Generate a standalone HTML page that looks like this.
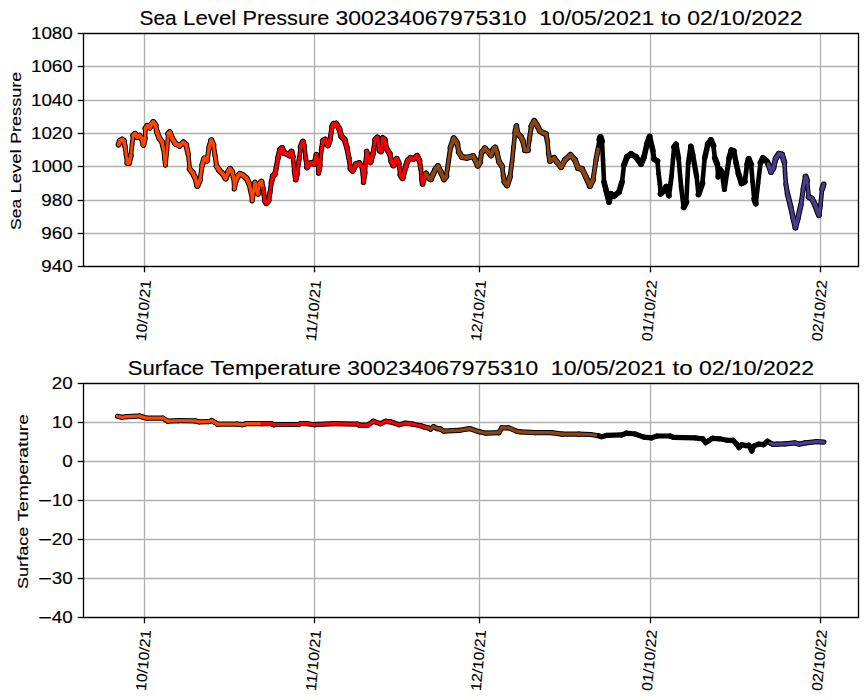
<!DOCTYPE html>
<html><head><meta charset="utf-8"><style>html,body{margin:0;padding:0;background:#fff;width:867px;height:700px;overflow:hidden;position:relative}</style></head>
<body>
<svg width="867" height="700" viewBox="0 0 867 700" style="position:absolute;left:0;top:0" font-family='"Liberation Sans", sans-serif' fill="#000">
<rect width="867" height="700" fill="#fff"/>
<style>text{stroke:#000;stroke-width:0.15px;}</style>
<line x1="144.5" y1="33.5" x2="144.5" y2="266.5" stroke="#b0b0b0" stroke-width="1.33"/>
<line x1="314.5" y1="33.5" x2="314.5" y2="266.5" stroke="#b0b0b0" stroke-width="1.33"/>
<line x1="479.5" y1="33.5" x2="479.5" y2="266.5" stroke="#b0b0b0" stroke-width="1.33"/>
<line x1="650.5" y1="33.5" x2="650.5" y2="266.5" stroke="#b0b0b0" stroke-width="1.33"/>
<line x1="820.5" y1="33.5" x2="820.5" y2="266.5" stroke="#b0b0b0" stroke-width="1.33"/>
<line x1="83.5" y1="33.50" x2="858.5" y2="33.50" stroke="#b0b0b0" stroke-width="1.33"/>
<line x1="83.5" y1="66.50" x2="858.5" y2="66.50" stroke="#b0b0b0" stroke-width="1.33"/>
<line x1="83.5" y1="100.50" x2="858.5" y2="100.50" stroke="#b0b0b0" stroke-width="1.33"/>
<line x1="83.5" y1="133.50" x2="858.5" y2="133.50" stroke="#b0b0b0" stroke-width="1.33"/>
<line x1="83.5" y1="166.50" x2="858.5" y2="166.50" stroke="#b0b0b0" stroke-width="1.33"/>
<line x1="83.5" y1="200.50" x2="858.5" y2="200.50" stroke="#b0b0b0" stroke-width="1.33"/>
<line x1="83.5" y1="233.50" x2="858.5" y2="233.50" stroke="#b0b0b0" stroke-width="1.33"/>
<line x1="83.5" y1="266.50" x2="858.5" y2="266.50" stroke="#b0b0b0" stroke-width="1.33"/>
<line x1="144.5" y1="383.5" x2="144.5" y2="617.5" stroke="#b0b0b0" stroke-width="1.33"/>
<line x1="314.5" y1="383.5" x2="314.5" y2="617.5" stroke="#b0b0b0" stroke-width="1.33"/>
<line x1="479.5" y1="383.5" x2="479.5" y2="617.5" stroke="#b0b0b0" stroke-width="1.33"/>
<line x1="650.5" y1="383.5" x2="650.5" y2="617.5" stroke="#b0b0b0" stroke-width="1.33"/>
<line x1="820.5" y1="383.5" x2="820.5" y2="617.5" stroke="#b0b0b0" stroke-width="1.33"/>
<line x1="83.5" y1="383.50" x2="858.5" y2="383.50" stroke="#b0b0b0" stroke-width="1.33"/>
<line x1="83.5" y1="422.50" x2="858.5" y2="422.50" stroke="#b0b0b0" stroke-width="1.33"/>
<line x1="83.5" y1="461.50" x2="858.5" y2="461.50" stroke="#b0b0b0" stroke-width="1.33"/>
<line x1="83.5" y1="500.50" x2="858.5" y2="500.50" stroke="#b0b0b0" stroke-width="1.33"/>
<line x1="83.5" y1="539.50" x2="858.5" y2="539.50" stroke="#b0b0b0" stroke-width="1.33"/>
<line x1="83.5" y1="578.50" x2="858.5" y2="578.50" stroke="#b0b0b0" stroke-width="1.33"/>
<line x1="83.5" y1="617.50" x2="858.5" y2="617.50" stroke="#b0b0b0" stroke-width="1.33"/>
<g fill="none" stroke-linecap="round" stroke="#000">
<line x1="118.6" y1="144.6" x2="119.9" y2="140.9" stroke-width="5.92"/>
<line x1="119.9" y1="140.9" x2="122.2" y2="139.7" stroke-width="6.00"/>
<line x1="122.2" y1="139.7" x2="123.8" y2="140.9" stroke-width="6.00"/>
<line x1="123.8" y1="140.9" x2="125.0" y2="146.4" stroke-width="5.51"/>
<line x1="125.0" y1="146.4" x2="126.1" y2="154.3" stroke-width="4.91"/>
<line x1="126.1" y1="154.3" x2="127.3" y2="162.9" stroke-width="4.91"/>
<line x1="127.3" y1="162.9" x2="128.9" y2="162.9" stroke-width="6.00"/>
<line x1="128.9" y1="162.9" x2="130.9" y2="155.8" stroke-width="5.76"/>
<line x1="130.9" y1="155.8" x2="132.0" y2="144.9" stroke-width="4.60"/>
<line x1="132.0" y1="144.9" x2="133.2" y2="135.4" stroke-width="4.74"/>
<line x1="133.2" y1="135.4" x2="135.2" y2="133.9" stroke-width="6.00"/>
<line x1="135.2" y1="133.9" x2="137.1" y2="137.0" stroke-width="6.00"/>
<line x1="137.1" y1="137.0" x2="139.5" y2="135.8" stroke-width="6.00"/>
<line x1="139.5" y1="135.8" x2="141.9" y2="138.6" stroke-width="6.00"/>
<line x1="141.9" y1="138.6" x2="143.4" y2="144.9" stroke-width="5.60"/>
<line x1="143.4" y1="144.9" x2="145.0" y2="138.6" stroke-width="5.66"/>
<line x1="145.0" y1="138.6" x2="145.4" y2="128.4" stroke-width="4.60"/>
<line x1="145.4" y1="128.4" x2="147.3" y2="126.0" stroke-width="6.00"/>
<line x1="147.3" y1="126.0" x2="149.7" y2="127.6" stroke-width="6.00"/>
<line x1="149.7" y1="127.6" x2="151.3" y2="124.4" stroke-width="6.00"/>
<line x1="151.3" y1="124.4" x2="153.2" y2="122.1" stroke-width="6.00"/>
<line x1="153.2" y1="122.1" x2="155.6" y2="125.2" stroke-width="6.00"/>
<line x1="155.6" y1="125.2" x2="156.8" y2="131.5" stroke-width="5.36"/>
<line x1="156.8" y1="131.5" x2="159.1" y2="137.8" stroke-width="5.94"/>
<line x1="159.1" y1="137.8" x2="161.9" y2="141.7" stroke-width="6.00"/>
<line x1="161.9" y1="141.7" x2="163.5" y2="148.8" stroke-width="5.55"/>
<line x1="163.5" y1="148.8" x2="164.6" y2="159.0" stroke-width="4.60"/>
<line x1="164.6" y1="159.0" x2="165.4" y2="165.3" stroke-width="4.75"/>
<line x1="165.4" y1="165.3" x2="167.0" y2="150.3" stroke-width="4.60"/>
<line x1="167.0" y1="150.3" x2="168.2" y2="133.9" stroke-width="4.60"/>
<line x1="168.2" y1="133.9" x2="169.7" y2="132.3" stroke-width="6.00"/>
<line x1="169.7" y1="132.3" x2="172.1" y2="138.2" stroke-width="6.00"/>
<line x1="172.1" y1="138.2" x2="175.4" y2="143.6" stroke-width="6.00"/>
<line x1="175.4" y1="143.6" x2="179.6" y2="145.7" stroke-width="6.00"/>
<line x1="179.6" y1="145.7" x2="183.4" y2="142.5" stroke-width="6.00"/>
<line x1="183.4" y1="142.5" x2="186.1" y2="144.7" stroke-width="6.00"/>
<line x1="186.1" y1="144.7" x2="188.2" y2="154.3" stroke-width="5.52"/>
<line x1="188.2" y1="154.3" x2="189.8" y2="169.3" stroke-width="4.60"/>
<line x1="189.8" y1="169.3" x2="192.5" y2="172.5" stroke-width="6.00"/>
<line x1="192.5" y1="172.5" x2="195.2" y2="177.9" stroke-width="6.00"/>
<line x1="195.2" y1="177.9" x2="197.3" y2="185.9" stroke-width="5.69"/>
<line x1="197.3" y1="185.9" x2="200.0" y2="180.0" stroke-width="6.00"/>
<line x1="200.0" y1="180.0" x2="202.2" y2="165.0" stroke-width="4.99"/>
<line x1="202.2" y1="165.0" x2="204.3" y2="158.6" stroke-width="5.87"/>
<line x1="204.3" y1="158.6" x2="207.0" y2="160.7" stroke-width="6.00"/>
<line x1="207.0" y1="160.7" x2="209.1" y2="147.9" stroke-width="5.16"/>
<line x1="209.1" y1="147.9" x2="211.3" y2="140.4" stroke-width="5.79"/>
<line x1="211.3" y1="140.4" x2="213.4" y2="144.7" stroke-width="6.00"/>
<line x1="213.4" y1="144.7" x2="215.0" y2="155.4" stroke-width="5.02"/>
<line x1="215.0" y1="155.4" x2="216.6" y2="166.1" stroke-width="5.02"/>
<line x1="216.6" y1="166.1" x2="219.3" y2="170.4" stroke-width="6.00"/>
<line x1="219.3" y1="170.4" x2="222.5" y2="173.6" stroke-width="6.00"/>
<line x1="222.5" y1="173.6" x2="225.7" y2="178.4" stroke-width="6.00"/>
<line x1="225.7" y1="178.4" x2="228.4" y2="171.4" stroke-width="5.98"/>
<line x1="228.4" y1="171.4" x2="230.0" y2="168.9" stroke-width="6.00"/>
<line x1="230.0" y1="168.9" x2="232.1" y2="171.7" stroke-width="6.00"/>
<line x1="232.1" y1="171.7" x2="233.6" y2="178.1" stroke-width="5.59"/>
<line x1="233.6" y1="178.1" x2="234.3" y2="188.9" stroke-width="4.60"/>
<line x1="234.3" y1="188.9" x2="235.7" y2="181.0" stroke-width="5.27"/>
<line x1="235.7" y1="181.0" x2="237.9" y2="176.0" stroke-width="6.00"/>
<line x1="237.9" y1="176.0" x2="240.0" y2="173.9" stroke-width="6.00"/>
<line x1="240.0" y1="173.9" x2="242.9" y2="175.3" stroke-width="6.00"/>
<line x1="242.9" y1="175.3" x2="246.4" y2="178.1" stroke-width="6.00"/>
<line x1="246.4" y1="178.1" x2="249.3" y2="183.9" stroke-width="6.00"/>
<line x1="249.3" y1="183.9" x2="251.4" y2="193.9" stroke-width="5.47"/>
<line x1="251.4" y1="193.9" x2="252.1" y2="201.0" stroke-width="4.60"/>
<line x1="252.1" y1="201.0" x2="253.6" y2="191.0" stroke-width="5.03"/>
<line x1="253.6" y1="191.0" x2="255.0" y2="182.4" stroke-width="5.15"/>
<line x1="255.0" y1="182.4" x2="256.4" y2="189.6" stroke-width="5.38"/>
<line x1="256.4" y1="189.6" x2="257.9" y2="193.9" stroke-width="5.91"/>
<line x1="257.9" y1="193.9" x2="259.3" y2="183.9" stroke-width="4.92"/>
<line x1="259.3" y1="183.9" x2="261.4" y2="181.7" stroke-width="6.00"/>
<line x1="261.4" y1="181.7" x2="262.9" y2="188.1" stroke-width="5.59"/>
<line x1="262.9" y1="188.1" x2="263.6" y2="192.4" stroke-width="5.15"/>
<line x1="263.6" y1="192.4" x2="265.0" y2="201.0" stroke-width="5.15"/>
<line x1="265.0" y1="201.0" x2="266.4" y2="203.1" stroke-width="6.00"/>
<line x1="266.4" y1="203.1" x2="268.6" y2="200.3" stroke-width="6.00"/>
<line x1="268.6" y1="200.3" x2="270.0" y2="192.4" stroke-width="5.27"/>
<line x1="270.0" y1="192.4" x2="271.4" y2="182.4" stroke-width="4.92"/>
<line x1="271.4" y1="182.4" x2="272.9" y2="176.0" stroke-width="5.59"/>
<line x1="272.9" y1="176.0" x2="275.0" y2="173.9" stroke-width="6.00"/>
<line x1="275.0" y1="173.9" x2="276.4" y2="166.7" stroke-width="5.38"/>
<line x1="276.4" y1="166.7" x2="277.9" y2="158.1" stroke-width="5.25"/>
<line x1="277.9" y1="158.1" x2="280.0" y2="149.6" stroke-width="5.64"/>
<line x1="280.0" y1="149.6" x2="282.1" y2="148.1" stroke-width="6.00"/>
<line x1="282.1" y1="148.1" x2="284.3" y2="153.1" stroke-width="6.00"/>
<line x1="284.3" y1="153.1" x2="287.1" y2="153.9" stroke-width="6.00"/>
<line x1="287.1" y1="153.9" x2="289.3" y2="155.3" stroke-width="6.00"/>
<line x1="289.3" y1="155.3" x2="291.4" y2="151.7" stroke-width="6.00"/>
<line x1="291.4" y1="151.7" x2="292.9" y2="156.7" stroke-width="5.81"/>
<line x1="292.9" y1="156.7" x2="294.3" y2="171.0" stroke-width="4.60"/>
<line x1="294.3" y1="171.0" x2="295.7" y2="179.6" stroke-width="5.15"/>
<line x1="295.7" y1="179.6" x2="297.1" y2="173.9" stroke-width="5.63"/>
<line x1="297.1" y1="173.9" x2="297.9" y2="166.7" stroke-width="4.60"/>
<line x1="297.9" y1="166.7" x2="299.3" y2="158.1" stroke-width="5.15"/>
<line x1="299.3" y1="158.1" x2="300.7" y2="146.7" stroke-width="4.68"/>
<line x1="300.7" y1="146.7" x2="302.9" y2="141.7" stroke-width="6.00"/>
<line x1="302.9" y1="141.7" x2="304.3" y2="146.7" stroke-width="5.75"/>
<line x1="304.3" y1="146.7" x2="305.7" y2="158.1" stroke-width="4.68"/>
<line x1="305.7" y1="158.1" x2="307.1" y2="167.4" stroke-width="5.03"/>
<line x1="307.1" y1="167.4" x2="308.6" y2="163.9" stroke-width="6.00"/>
<line x1="308.6" y1="163.9" x2="311.4" y2="163.1" stroke-width="6.00"/>
<line x1="311.4" y1="163.1" x2="314.3" y2="163.9" stroke-width="6.00"/>
<line x1="314.3" y1="163.9" x2="316.4" y2="154.6" stroke-width="5.55"/>
<line x1="316.4" y1="154.6" x2="317.9" y2="162.4" stroke-width="5.37"/>
<line x1="317.9" y1="162.4" x2="318.6" y2="173.1" stroke-width="4.60"/>
<line x1="318.6" y1="173.1" x2="320.0" y2="165.3" stroke-width="5.28"/>
<line x1="320.0" y1="165.3" x2="321.4" y2="149.6" stroke-width="4.60"/>
<line x1="321.4" y1="149.6" x2="322.9" y2="141.0" stroke-width="5.25"/>
<line x1="322.9" y1="141.0" x2="325.0" y2="139.6" stroke-width="6.00"/>
<line x1="325.0" y1="139.6" x2="327.9" y2="145.3" stroke-width="6.00"/>
<line x1="327.9" y1="145.3" x2="330.0" y2="139.6" stroke-width="5.95"/>
<line x1="330.0" y1="139.6" x2="332.1" y2="126.7" stroke-width="5.15"/>
<line x1="332.1" y1="126.7" x2="333.6" y2="123.9" stroke-width="6.00"/>
<line x1="333.6" y1="123.9" x2="334.3" y2="124.6" stroke-width="6.00"/>
<line x1="334.3" y1="124.6" x2="336.1" y2="123.6" stroke-width="6.00"/>
<line x1="336.1" y1="123.6" x2="339.3" y2="128.9" stroke-width="6.00"/>
<line x1="339.3" y1="128.9" x2="341.4" y2="136.4" stroke-width="5.75"/>
<line x1="341.4" y1="136.4" x2="344.6" y2="139.7" stroke-width="6.00"/>
<line x1="344.6" y1="139.7" x2="346.8" y2="147.2" stroke-width="5.79"/>
<line x1="346.8" y1="147.2" x2="348.9" y2="157.9" stroke-width="5.39"/>
<line x1="348.9" y1="157.9" x2="350.5" y2="168.6" stroke-width="5.02"/>
<line x1="350.5" y1="168.6" x2="352.7" y2="170.7" stroke-width="6.00"/>
<line x1="352.7" y1="170.7" x2="355.9" y2="164.3" stroke-width="6.00"/>
<line x1="355.9" y1="164.3" x2="359.1" y2="163.2" stroke-width="6.00"/>
<line x1="359.1" y1="163.2" x2="361.8" y2="166.4" stroke-width="6.00"/>
<line x1="361.8" y1="166.4" x2="362.9" y2="175.0" stroke-width="4.76"/>
<line x1="362.9" y1="175.0" x2="363.4" y2="182.5" stroke-width="4.60"/>
<line x1="363.4" y1="182.5" x2="365.0" y2="172.9" stroke-width="5.18"/>
<line x1="365.0" y1="172.9" x2="365.5" y2="162.2" stroke-width="4.60"/>
<line x1="365.5" y1="162.2" x2="366.6" y2="151.4" stroke-width="4.60"/>
<line x1="366.6" y1="151.4" x2="368.2" y2="157.9" stroke-width="5.64"/>
<line x1="368.2" y1="157.9" x2="370.4" y2="162.2" stroke-width="6.00"/>
<line x1="370.4" y1="162.2" x2="373.0" y2="153.6" stroke-width="5.81"/>
<line x1="373.0" y1="153.6" x2="375.2" y2="139.7" stroke-width="5.11"/>
<line x1="375.2" y1="139.7" x2="377.3" y2="137.5" stroke-width="6.00"/>
<line x1="377.3" y1="137.5" x2="379.5" y2="150.4" stroke-width="5.22"/>
<line x1="379.5" y1="150.4" x2="381.1" y2="151.4" stroke-width="6.00"/>
<line x1="381.1" y1="151.4" x2="382.7" y2="138.0" stroke-width="4.63"/>
<line x1="382.7" y1="138.0" x2="384.8" y2="139.7" stroke-width="6.00"/>
<line x1="384.8" y1="139.7" x2="386.4" y2="148.2" stroke-width="5.34"/>
<line x1="386.4" y1="148.2" x2="389.7" y2="153.6" stroke-width="6.00"/>
<line x1="389.7" y1="153.6" x2="391.3" y2="161.1" stroke-width="5.49"/>
<line x1="391.3" y1="161.1" x2="393.4" y2="165.4" stroke-width="6.00"/>
<line x1="393.4" y1="165.4" x2="396.6" y2="158.9" stroke-width="6.00"/>
<line x1="396.6" y1="158.9" x2="398.8" y2="163.2" stroke-width="6.00"/>
<line x1="398.8" y1="163.2" x2="400.4" y2="175.0" stroke-width="4.86"/>
<line x1="400.4" y1="175.0" x2="402.5" y2="178.2" stroke-width="6.00"/>
<line x1="402.5" y1="178.2" x2="405.7" y2="166.4" stroke-width="5.72"/>
<line x1="405.7" y1="166.4" x2="407.8" y2="160.6" stroke-width="5.94"/>
<line x1="407.8" y1="160.6" x2="410.6" y2="157.9" stroke-width="6.00"/>
<line x1="410.6" y1="157.9" x2="413.4" y2="158.8" stroke-width="6.00"/>
<line x1="413.4" y1="158.8" x2="417.1" y2="156.0" stroke-width="6.00"/>
<line x1="417.1" y1="156.0" x2="419.4" y2="160.6" stroke-width="6.00"/>
<line x1="419.4" y1="160.6" x2="420.8" y2="169.0" stroke-width="5.18"/>
<line x1="420.8" y1="169.0" x2="421.7" y2="179.2" stroke-width="4.60"/>
<line x1="421.7" y1="179.2" x2="422.6" y2="183.9" stroke-width="5.36"/>
<line x1="422.6" y1="183.9" x2="424.0" y2="178.3" stroke-width="5.65"/>
<line x1="424.0" y1="178.3" x2="425.9" y2="173.6" stroke-width="6.00"/>
<line x1="425.9" y1="173.6" x2="429.1" y2="178.3" stroke-width="6.00"/>
<line x1="429.1" y1="178.3" x2="431.0" y2="179.2" stroke-width="6.00"/>
<line x1="431.0" y1="179.2" x2="432.9" y2="174.6" stroke-width="6.00"/>
<line x1="432.9" y1="174.6" x2="435.6" y2="169.0" stroke-width="6.00"/>
<line x1="435.6" y1="169.0" x2="438.0" y2="166.2" stroke-width="6.00"/>
<line x1="438.0" y1="166.2" x2="440.7" y2="171.8" stroke-width="6.00"/>
<line x1="440.7" y1="171.8" x2="444.0" y2="179.2" stroke-width="6.00"/>
<line x1="444.0" y1="179.2" x2="446.3" y2="176.4" stroke-width="6.00"/>
<line x1="446.3" y1="176.4" x2="448.6" y2="160.6" stroke-width="4.98"/>
<line x1="448.6" y1="160.6" x2="450.5" y2="147.6" stroke-width="4.99"/>
<line x1="450.5" y1="147.6" x2="453.7" y2="138.4" stroke-width="5.91"/>
<line x1="453.7" y1="138.4" x2="456.5" y2="142.1" stroke-width="6.00"/>
<line x1="456.5" y1="142.1" x2="457.4" y2="144.4" stroke-width="5.99"/>
<line x1="457.4" y1="144.4" x2="458.9" y2="152.3" stroke-width="5.35"/>
<line x1="458.9" y1="152.3" x2="462.1" y2="157.0" stroke-width="6.00"/>
<line x1="462.1" y1="157.0" x2="466.8" y2="157.8" stroke-width="6.00"/>
<line x1="466.8" y1="157.8" x2="473.1" y2="156.2" stroke-width="6.00"/>
<line x1="473.1" y1="156.2" x2="475.4" y2="160.1" stroke-width="6.00"/>
<line x1="475.4" y1="160.1" x2="477.8" y2="165.6" stroke-width="6.00"/>
<line x1="477.8" y1="165.6" x2="480.1" y2="162.5" stroke-width="6.00"/>
<line x1="480.1" y1="162.5" x2="481.7" y2="152.3" stroke-width="5.10"/>
<line x1="481.7" y1="152.3" x2="484.9" y2="148.4" stroke-width="6.00"/>
<line x1="484.9" y1="148.4" x2="488.0" y2="151.5" stroke-width="6.00"/>
<line x1="488.0" y1="151.5" x2="491.1" y2="155.4" stroke-width="6.00"/>
<line x1="491.1" y1="155.4" x2="493.5" y2="149.1" stroke-width="5.97"/>
<line x1="493.5" y1="149.1" x2="495.1" y2="147.6" stroke-width="6.00"/>
<line x1="495.1" y1="147.6" x2="497.0" y2="153.0" stroke-width="5.92"/>
<line x1="497.0" y1="153.0" x2="499.0" y2="161.7" stroke-width="5.57"/>
<line x1="499.0" y1="161.7" x2="502.1" y2="166.4" stroke-width="6.00"/>
<line x1="502.1" y1="166.4" x2="503.3" y2="175.8" stroke-width="4.76"/>
<line x1="503.3" y1="175.8" x2="504.5" y2="182.1" stroke-width="5.36"/>
<line x1="504.5" y1="182.1" x2="507.1" y2="185.3" stroke-width="6.00"/>
<line x1="507.1" y1="185.3" x2="510.0" y2="176.7" stroke-width="5.89"/>
<line x1="510.0" y1="176.7" x2="512.1" y2="161.0" stroke-width="4.84"/>
<line x1="512.1" y1="161.0" x2="513.6" y2="146.7" stroke-width="4.60"/>
<line x1="513.6" y1="146.7" x2="515.0" y2="132.4" stroke-width="4.60"/>
<line x1="515.0" y1="132.4" x2="516.4" y2="126.0" stroke-width="5.52"/>
<line x1="516.4" y1="126.0" x2="517.9" y2="133.9" stroke-width="5.35"/>
<line x1="517.9" y1="133.9" x2="520.7" y2="136.7" stroke-width="6.00"/>
<line x1="520.7" y1="136.7" x2="522.9" y2="141.0" stroke-width="6.00"/>
<line x1="522.9" y1="141.0" x2="525.0" y2="150.3" stroke-width="5.55"/>
<line x1="525.0" y1="150.3" x2="527.9" y2="150.3" stroke-width="6.00"/>
<line x1="527.9" y1="150.3" x2="529.3" y2="139.6" stroke-width="4.80"/>
<line x1="529.3" y1="139.6" x2="531.4" y2="126.0" stroke-width="5.07"/>
<line x1="531.4" y1="126.0" x2="534.3" y2="121.0" stroke-width="6.00"/>
<line x1="534.3" y1="121.0" x2="537.1" y2="125.3" stroke-width="6.00"/>
<line x1="537.1" y1="125.3" x2="540.0" y2="131.0" stroke-width="6.00"/>
<line x1="540.0" y1="131.0" x2="543.6" y2="133.1" stroke-width="6.00"/>
<line x1="543.6" y1="133.1" x2="546.0" y2="134.0" stroke-width="6.00"/>
<line x1="546.0" y1="134.0" x2="547.5" y2="142.0" stroke-width="5.34"/>
<line x1="547.5" y1="142.0" x2="548.5" y2="153.0" stroke-width="4.60"/>
<line x1="548.5" y1="153.0" x2="550.0" y2="161.0" stroke-width="5.34"/>
<line x1="550.0" y1="161.0" x2="554.0" y2="158.0" stroke-width="6.00"/>
<line x1="554.0" y1="158.0" x2="557.0" y2="162.0" stroke-width="6.00"/>
<line x1="557.0" y1="162.0" x2="561.0" y2="167.0" stroke-width="6.00"/>
<line x1="561.0" y1="167.0" x2="565.0" y2="160.0" stroke-width="6.00"/>
<line x1="565.0" y1="160.0" x2="570.5" y2="155.0" stroke-width="6.00"/>
<line x1="570.5" y1="155.0" x2="575.0" y2="160.0" stroke-width="6.00"/>
<line x1="575.0" y1="160.0" x2="578.0" y2="168.0" stroke-width="5.96"/>
<line x1="578.0" y1="168.0" x2="582.0" y2="169.0" stroke-width="6.00"/>
<line x1="582.0" y1="169.0" x2="586.0" y2="177.0" stroke-width="6.00"/>
<line x1="586.0" y1="177.0" x2="590.0" y2="186.0" stroke-width="6.00"/>
<line x1="590.0" y1="186.0" x2="593.0" y2="180.0" stroke-width="6.00"/>
<line x1="593.0" y1="180.0" x2="596.0" y2="160.0" stroke-width="5.03"/>
<line x1="596.0" y1="160.0" x2="598.5" y2="147.0" stroke-width="5.37"/>
<line x1="598.5" y1="147.0" x2="599.4" y2="139.5" stroke-width="4.64"/>
<line x1="599.4" y1="139.5" x2="600.5" y2="137.0" stroke-width="6.00"/>
<line x1="600.5" y1="137.0" x2="602.0" y2="141.0" stroke-width="5.96"/>
<line x1="602.0" y1="141.0" x2="603.0" y2="160.0" stroke-width="4.60"/>
<line x1="603.0" y1="160.0" x2="604.0" y2="182.0" stroke-width="4.60"/>
<line x1="604.0" y1="182.0" x2="606.0" y2="190.0" stroke-width="5.65"/>
<line x1="606.0" y1="190.0" x2="609.0" y2="202.0" stroke-width="5.65"/>
<line x1="609.0" y1="202.0" x2="611.0" y2="194.0" stroke-width="5.65"/>
<line x1="611.0" y1="194.0" x2="614.0" y2="196.0" stroke-width="6.00"/>
<line x1="614.0" y1="196.0" x2="619.0" y2="192.0" stroke-width="6.00"/>
<line x1="619.0" y1="192.0" x2="622.0" y2="182.0" stroke-width="5.81"/>
<line x1="622.0" y1="182.0" x2="624.0" y2="165.0" stroke-width="4.60"/>
<line x1="624.0" y1="165.0" x2="627.0" y2="157.0" stroke-width="5.96"/>
<line x1="627.0" y1="157.0" x2="631.0" y2="154.0" stroke-width="6.00"/>
<line x1="631.0" y1="154.0" x2="636.0" y2="157.0" stroke-width="6.00"/>
<line x1="636.0" y1="157.0" x2="641.0" y2="164.0" stroke-width="6.00"/>
<line x1="641.0" y1="164.0" x2="644.0" y2="157.0" stroke-width="6.00"/>
<line x1="644.0" y1="157.0" x2="647.0" y2="144.0" stroke-width="5.57"/>
<line x1="647.0" y1="144.0" x2="649.6" y2="136.6" stroke-width="5.92"/>
<line x1="649.6" y1="136.6" x2="652.9" y2="150.7" stroke-width="5.59"/>
<line x1="652.9" y1="150.7" x2="654.1" y2="159.1" stroke-width="4.95"/>
<line x1="654.1" y1="159.1" x2="657.4" y2="161.0" stroke-width="6.00"/>
<line x1="657.4" y1="161.0" x2="658.6" y2="173.8" stroke-width="4.60"/>
<line x1="658.6" y1="173.8" x2="659.9" y2="184.1" stroke-width="4.73"/>
<line x1="659.9" y1="184.1" x2="660.6" y2="193.8" stroke-width="4.60"/>
<line x1="660.6" y1="193.8" x2="663.8" y2="190.6" stroke-width="6.00"/>
<line x1="663.8" y1="190.6" x2="666.3" y2="186.7" stroke-width="6.00"/>
<line x1="666.3" y1="186.7" x2="668.9" y2="195.7" stroke-width="5.78"/>
<line x1="668.9" y1="195.7" x2="671.5" y2="176.4" stroke-width="4.85"/>
<line x1="671.5" y1="176.4" x2="674.1" y2="146.9" stroke-width="4.60"/>
<line x1="674.1" y1="146.9" x2="676.0" y2="144.3" stroke-width="6.00"/>
<line x1="676.0" y1="144.3" x2="678.6" y2="158.4" stroke-width="5.32"/>
<line x1="678.6" y1="158.4" x2="681.1" y2="186.7" stroke-width="4.60"/>
<line x1="681.1" y1="186.7" x2="683.7" y2="207.3" stroke-width="4.73"/>
<line x1="683.7" y1="207.3" x2="686.3" y2="202.1" stroke-width="6.00"/>
<line x1="686.3" y1="202.1" x2="688.2" y2="163.6" stroke-width="4.60"/>
<line x1="688.2" y1="163.6" x2="690.8" y2="146.2" stroke-width="5.02"/>
<line x1="690.8" y1="146.2" x2="692.7" y2="154.6" stroke-width="5.55"/>
<line x1="692.7" y1="154.6" x2="696.6" y2="176.4" stroke-width="5.28"/>
<line x1="696.6" y1="176.4" x2="698.5" y2="194.4" stroke-width="4.60"/>
<line x1="698.5" y1="194.4" x2="702.4" y2="183.3" stroke-width="5.92"/>
<line x1="702.4" y1="183.3" x2="704.7" y2="158.1" stroke-width="4.60"/>
<line x1="704.7" y1="158.1" x2="707.9" y2="144.0" stroke-width="5.56"/>
<line x1="707.9" y1="144.0" x2="711.0" y2="140.1" stroke-width="6.00"/>
<line x1="711.0" y1="140.1" x2="713.4" y2="145.6" stroke-width="6.00"/>
<line x1="713.4" y1="145.6" x2="714.9" y2="158.1" stroke-width="4.64"/>
<line x1="714.9" y1="158.1" x2="717.3" y2="164.4" stroke-width="5.97"/>
<line x1="717.3" y1="164.4" x2="718.1" y2="177.0" stroke-width="4.60"/>
<line x1="718.1" y1="177.0" x2="719.6" y2="169.1" stroke-width="5.35"/>
<line x1="719.6" y1="169.1" x2="722.0" y2="172.3" stroke-width="6.00"/>
<line x1="722.0" y1="172.3" x2="724.4" y2="189.6" stroke-width="4.90"/>
<line x1="724.4" y1="189.6" x2="726.7" y2="173.9" stroke-width="4.99"/>
<line x1="726.7" y1="173.9" x2="729.1" y2="158.1" stroke-width="5.05"/>
<line x1="729.1" y1="158.1" x2="731.4" y2="150.3" stroke-width="5.79"/>
<line x1="731.4" y1="150.3" x2="733.8" y2="151.1" stroke-width="6.00"/>
<line x1="733.8" y1="151.1" x2="736.1" y2="162.9" stroke-width="5.39"/>
<line x1="736.1" y1="162.9" x2="738.5" y2="173.9" stroke-width="5.51"/>
<line x1="738.5" y1="173.9" x2="741.6" y2="183.3" stroke-width="5.88"/>
<line x1="741.6" y1="183.3" x2="744.8" y2="181.7" stroke-width="6.00"/>
<line x1="744.8" y1="181.7" x2="747.1" y2="164.4" stroke-width="4.83"/>
<line x1="747.1" y1="164.4" x2="748.7" y2="158.9" stroke-width="5.78"/>
<line x1="748.7" y1="158.9" x2="751.1" y2="164.4" stroke-width="6.00"/>
<line x1="751.1" y1="164.4" x2="752.6" y2="181.7" stroke-width="4.60"/>
<line x1="752.6" y1="181.7" x2="754.2" y2="199.0" stroke-width="4.60"/>
<line x1="754.2" y1="199.0" x2="755.8" y2="203.7" stroke-width="5.90"/>
<line x1="755.8" y1="203.7" x2="758.1" y2="183.3" stroke-width="4.60"/>
<line x1="758.1" y1="183.3" x2="760.5" y2="162.9" stroke-width="4.60"/>
<line x1="760.5" y1="162.9" x2="762.9" y2="158.1" stroke-width="6.00"/>
<line x1="762.9" y1="158.1" x2="766.8" y2="161.3" stroke-width="6.00"/>
<line x1="766.8" y1="161.3" x2="768.4" y2="164.4" stroke-width="6.00"/>
<line x1="768.4" y1="164.4" x2="771.0" y2="171.9" stroke-width="5.91"/>
<line x1="771.0" y1="171.9" x2="773.4" y2="167.9" stroke-width="6.00"/>
<line x1="773.4" y1="167.9" x2="775.7" y2="158.5" stroke-width="5.63"/>
<line x1="775.7" y1="158.5" x2="778.9" y2="153.8" stroke-width="6.00"/>
<line x1="778.9" y1="153.8" x2="782.0" y2="154.6" stroke-width="6.00"/>
<line x1="782.0" y1="154.6" x2="784.4" y2="162.4" stroke-width="5.82"/>
<line x1="784.4" y1="162.4" x2="785.1" y2="173.4" stroke-width="4.60"/>
<line x1="785.1" y1="173.4" x2="785.9" y2="184.4" stroke-width="4.60"/>
<line x1="785.9" y1="184.4" x2="787.5" y2="193.9" stroke-width="5.20"/>
<line x1="787.5" y1="193.9" x2="790.6" y2="206.4" stroke-width="5.64"/>
<line x1="790.6" y1="206.4" x2="793.0" y2="217.4" stroke-width="5.51"/>
<line x1="793.0" y1="217.4" x2="795.4" y2="227.6" stroke-width="5.59"/>
<line x1="795.4" y1="227.6" x2="797.7" y2="219.0" stroke-width="5.71"/>
<line x1="797.7" y1="219.0" x2="800.9" y2="204.9" stroke-width="5.56"/>
<line x1="800.9" y1="204.9" x2="803.2" y2="189.1" stroke-width="4.98"/>
<line x1="803.2" y1="189.1" x2="805.6" y2="176.6" stroke-width="5.37"/>
<line x1="805.6" y1="176.6" x2="807.1" y2="180.5" stroke-width="5.98"/>
<line x1="807.1" y1="180.5" x2="808.7" y2="197.0" stroke-width="4.60"/>
<line x1="808.7" y1="197.0" x2="811.9" y2="198.6" stroke-width="6.00"/>
<line x1="811.9" y1="198.6" x2="815.0" y2="204.9" stroke-width="6.00"/>
<line x1="815.0" y1="204.9" x2="818.9" y2="215.1" stroke-width="5.97"/>
<line x1="818.9" y1="215.1" x2="820.5" y2="204.9" stroke-width="5.10"/>
<line x1="820.5" y1="204.9" x2="822.1" y2="189.1" stroke-width="4.60"/>
<line x1="822.1" y1="189.1" x2="823.6" y2="184.4" stroke-width="5.85"/>
<line x1="117.4" y1="416.3" x2="121.8" y2="417.3" stroke-width="5.20"/>
<line x1="121.8" y1="417.3" x2="126.7" y2="416.6" stroke-width="5.20"/>
<line x1="126.7" y1="416.6" x2="133.5" y2="416.3" stroke-width="5.20"/>
<line x1="133.5" y1="416.3" x2="139.4" y2="416.0" stroke-width="5.20"/>
<line x1="139.4" y1="416.0" x2="143.3" y2="417.3" stroke-width="5.20"/>
<line x1="143.3" y1="417.3" x2="147.3" y2="418.2" stroke-width="5.20"/>
<line x1="147.3" y1="418.2" x2="162.9" y2="418.2" stroke-width="5.20"/>
<line x1="162.9" y1="418.2" x2="167.8" y2="421.2" stroke-width="5.20"/>
<line x1="167.8" y1="421.2" x2="178.6" y2="420.7" stroke-width="5.20"/>
<line x1="178.6" y1="420.7" x2="195.0" y2="420.9" stroke-width="5.20"/>
<line x1="195.0" y1="420.9" x2="198.9" y2="421.8" stroke-width="5.20"/>
<line x1="198.9" y1="421.8" x2="208.7" y2="421.6" stroke-width="5.20"/>
<line x1="208.7" y1="421.6" x2="211.7" y2="420.6" stroke-width="5.20"/>
<line x1="211.7" y1="420.6" x2="214.6" y2="422.3" stroke-width="5.20"/>
<line x1="214.6" y1="422.3" x2="217.5" y2="424.2" stroke-width="5.20"/>
<line x1="217.5" y1="424.2" x2="237.2" y2="424.2" stroke-width="5.20"/>
<line x1="237.2" y1="424.2" x2="242.1" y2="424.7" stroke-width="5.20"/>
<line x1="242.1" y1="424.7" x2="246.0" y2="423.7" stroke-width="5.20"/>
<line x1="246.0" y1="423.7" x2="261.9" y2="423.7" stroke-width="5.20"/>
<line x1="261.9" y1="423.7" x2="271.5" y2="423.7" stroke-width="5.20"/>
<line x1="271.5" y1="423.7" x2="273.4" y2="424.7" stroke-width="5.20"/>
<line x1="273.4" y1="424.7" x2="280.0" y2="424.5" stroke-width="5.20"/>
<line x1="280.0" y1="424.5" x2="298.6" y2="424.5" stroke-width="5.20"/>
<line x1="298.6" y1="424.5" x2="300.6" y2="423.5" stroke-width="5.20"/>
<line x1="300.6" y1="423.5" x2="307.5" y2="423.7" stroke-width="5.20"/>
<line x1="307.5" y1="423.7" x2="314.3" y2="424.7" stroke-width="5.20"/>
<line x1="314.3" y1="424.7" x2="333.9" y2="423.7" stroke-width="5.20"/>
<line x1="333.9" y1="423.7" x2="357.5" y2="424.2" stroke-width="5.20"/>
<line x1="357.5" y1="424.2" x2="359.4" y2="425.2" stroke-width="5.20"/>
<line x1="359.4" y1="425.2" x2="360.0" y2="425.2" stroke-width="5.20"/>
<line x1="360.0" y1="425.2" x2="367.8" y2="425.2" stroke-width="5.20"/>
<line x1="367.8" y1="425.2" x2="373.2" y2="421.3" stroke-width="5.20"/>
<line x1="373.2" y1="421.3" x2="380.6" y2="423.7" stroke-width="5.20"/>
<line x1="380.6" y1="423.7" x2="385.5" y2="421.3" stroke-width="5.20"/>
<line x1="385.5" y1="421.3" x2="390.4" y2="421.8" stroke-width="5.20"/>
<line x1="390.4" y1="421.8" x2="399.2" y2="424.7" stroke-width="5.20"/>
<line x1="399.2" y1="424.7" x2="405.1" y2="423.2" stroke-width="5.20"/>
<line x1="405.1" y1="423.2" x2="412.9" y2="424.2" stroke-width="5.20"/>
<line x1="412.9" y1="424.2" x2="420.8" y2="425.7" stroke-width="5.20"/>
<line x1="420.8" y1="425.7" x2="424.7" y2="427.2" stroke-width="5.20"/>
<line x1="424.7" y1="427.2" x2="427.6" y2="427.6" stroke-width="5.20"/>
<line x1="427.6" y1="427.6" x2="430.6" y2="429.1" stroke-width="5.20"/>
<line x1="430.6" y1="429.1" x2="433.5" y2="426.7" stroke-width="5.20"/>
<line x1="433.5" y1="426.7" x2="437.5" y2="428.6" stroke-width="5.20"/>
<line x1="437.5" y1="428.6" x2="440.0" y2="428.8" stroke-width="5.20"/>
<line x1="440.0" y1="428.8" x2="443.9" y2="431.2" stroke-width="5.20"/>
<line x1="443.9" y1="431.2" x2="451.8" y2="430.7" stroke-width="5.20"/>
<line x1="451.8" y1="430.7" x2="459.6" y2="430.3" stroke-width="5.20"/>
<line x1="459.6" y1="430.3" x2="469.4" y2="428.6" stroke-width="5.20"/>
<line x1="469.4" y1="428.6" x2="479.2" y2="431.7" stroke-width="5.20"/>
<line x1="479.2" y1="431.7" x2="486.1" y2="433.2" stroke-width="5.20"/>
<line x1="486.1" y1="433.2" x2="498.8" y2="432.7" stroke-width="5.20"/>
<line x1="498.8" y1="432.7" x2="501.8" y2="427.8" stroke-width="5.20"/>
<line x1="501.8" y1="427.8" x2="508.6" y2="427.8" stroke-width="5.20"/>
<line x1="508.6" y1="427.8" x2="516.5" y2="431.2" stroke-width="5.20"/>
<line x1="516.5" y1="431.2" x2="520.0" y2="431.8" stroke-width="5.20"/>
<line x1="520.0" y1="431.8" x2="535.7" y2="432.7" stroke-width="5.20"/>
<line x1="535.7" y1="432.7" x2="551.4" y2="432.7" stroke-width="5.20"/>
<line x1="551.4" y1="432.7" x2="562.2" y2="434.2" stroke-width="5.20"/>
<line x1="562.2" y1="434.2" x2="578.8" y2="434.2" stroke-width="5.20"/>
<line x1="578.8" y1="434.2" x2="590.6" y2="434.5" stroke-width="5.20"/>
<line x1="590.6" y1="434.5" x2="598.4" y2="435.7" stroke-width="5.20"/>
<line x1="598.4" y1="435.7" x2="601.4" y2="436.7" stroke-width="5.20"/>
<line x1="601.4" y1="436.7" x2="606.6" y2="435.4" stroke-width="5.20"/>
<line x1="606.6" y1="435.4" x2="621.9" y2="434.9" stroke-width="5.20"/>
<line x1="621.9" y1="434.9" x2="626.3" y2="433.2" stroke-width="5.20"/>
<line x1="626.3" y1="433.2" x2="635.1" y2="434.0" stroke-width="5.20"/>
<line x1="635.1" y1="434.0" x2="643.8" y2="437.1" stroke-width="5.20"/>
<line x1="643.8" y1="437.1" x2="651.5" y2="437.9" stroke-width="5.20"/>
<line x1="651.5" y1="437.9" x2="657.0" y2="436.0" stroke-width="5.20"/>
<line x1="657.0" y1="436.0" x2="670.1" y2="436.0" stroke-width="5.20"/>
<line x1="670.1" y1="436.0" x2="673.4" y2="437.3" stroke-width="5.20"/>
<line x1="673.4" y1="437.3" x2="695.0" y2="437.9" stroke-width="5.20"/>
<line x1="695.0" y1="437.9" x2="702.7" y2="438.8" stroke-width="5.20"/>
<line x1="702.7" y1="438.8" x2="705.7" y2="442.7" stroke-width="5.20"/>
<line x1="705.7" y1="442.7" x2="708.6" y2="440.7" stroke-width="5.20"/>
<line x1="708.6" y1="440.7" x2="712.5" y2="438.3" stroke-width="5.20"/>
<line x1="712.5" y1="438.3" x2="719.4" y2="438.8" stroke-width="5.20"/>
<line x1="719.4" y1="438.8" x2="727.3" y2="440.3" stroke-width="5.20"/>
<line x1="727.3" y1="440.3" x2="733.1" y2="440.3" stroke-width="5.20"/>
<line x1="733.1" y1="440.3" x2="737.1" y2="444.7" stroke-width="5.20"/>
<line x1="737.1" y1="444.7" x2="739.0" y2="447.6" stroke-width="5.20"/>
<line x1="739.0" y1="447.6" x2="742.0" y2="444.7" stroke-width="5.20"/>
<line x1="742.0" y1="444.7" x2="745.9" y2="445.6" stroke-width="5.20"/>
<line x1="745.9" y1="445.6" x2="748.8" y2="445.2" stroke-width="5.20"/>
<line x1="748.8" y1="445.2" x2="751.8" y2="451.0" stroke-width="5.20"/>
<line x1="751.8" y1="451.0" x2="753.7" y2="446.1" stroke-width="5.19"/>
<line x1="753.7" y1="446.1" x2="758.6" y2="444.2" stroke-width="5.20"/>
<line x1="758.6" y1="444.2" x2="763.5" y2="444.7" stroke-width="5.20"/>
<line x1="763.5" y1="444.7" x2="767.5" y2="441.2" stroke-width="5.20"/>
<line x1="767.5" y1="441.2" x2="770.4" y2="443.2" stroke-width="5.20"/>
<line x1="770.4" y1="443.2" x2="773.0" y2="444.4" stroke-width="5.20"/>
<line x1="773.0" y1="444.4" x2="777.1" y2="444.1" stroke-width="5.20"/>
<line x1="777.1" y1="444.1" x2="785.2" y2="443.9" stroke-width="5.20"/>
<line x1="785.2" y1="443.9" x2="794.9" y2="442.9" stroke-width="5.20"/>
<line x1="794.9" y1="442.9" x2="798.9" y2="444.1" stroke-width="5.20"/>
<line x1="798.9" y1="444.1" x2="805.4" y2="442.9" stroke-width="5.20"/>
<line x1="805.4" y1="442.9" x2="816.7" y2="441.7" stroke-width="5.20"/>
<line x1="816.7" y1="441.7" x2="823.9" y2="442.1" stroke-width="5.20"/>
</g>
<g fill="none" stroke-linecap="round" stroke="#ff4500">
<line x1="118.6" y1="144.6" x2="119.9" y2="140.9" stroke-width="3.92"/>
<line x1="119.9" y1="140.9" x2="122.2" y2="139.7" stroke-width="4.00"/>
<line x1="122.2" y1="139.7" x2="123.8" y2="140.9" stroke-width="4.00"/>
<line x1="123.8" y1="140.9" x2="125.0" y2="146.4" stroke-width="3.51"/>
<line x1="125.0" y1="146.4" x2="126.1" y2="154.3" stroke-width="2.91"/>
<line x1="126.1" y1="154.3" x2="127.3" y2="162.9" stroke-width="2.91"/>
<line x1="127.3" y1="162.9" x2="128.9" y2="162.9" stroke-width="4.00"/>
<line x1="128.9" y1="162.9" x2="130.9" y2="155.8" stroke-width="3.76"/>
<line x1="130.9" y1="155.8" x2="132.0" y2="144.9" stroke-width="2.60"/>
<line x1="132.0" y1="144.9" x2="133.2" y2="135.4" stroke-width="2.74"/>
<line x1="133.2" y1="135.4" x2="135.2" y2="133.9" stroke-width="4.00"/>
<line x1="135.2" y1="133.9" x2="137.1" y2="137.0" stroke-width="4.00"/>
<line x1="137.1" y1="137.0" x2="139.5" y2="135.8" stroke-width="4.00"/>
<line x1="139.5" y1="135.8" x2="141.9" y2="138.6" stroke-width="4.00"/>
<line x1="141.9" y1="138.6" x2="143.4" y2="144.9" stroke-width="3.60"/>
<line x1="143.4" y1="144.9" x2="145.0" y2="138.6" stroke-width="3.66"/>
<line x1="145.0" y1="138.6" x2="145.4" y2="128.4" stroke-width="2.60"/>
<line x1="145.4" y1="128.4" x2="147.3" y2="126.0" stroke-width="4.00"/>
<line x1="147.3" y1="126.0" x2="149.7" y2="127.6" stroke-width="4.00"/>
<line x1="149.7" y1="127.6" x2="151.3" y2="124.4" stroke-width="4.00"/>
<line x1="151.3" y1="124.4" x2="153.2" y2="122.1" stroke-width="4.00"/>
<line x1="153.2" y1="122.1" x2="155.6" y2="125.2" stroke-width="4.00"/>
<line x1="155.6" y1="125.2" x2="156.8" y2="131.5" stroke-width="3.36"/>
<line x1="156.8" y1="131.5" x2="159.1" y2="137.8" stroke-width="3.94"/>
<line x1="159.1" y1="137.8" x2="161.9" y2="141.7" stroke-width="4.00"/>
<line x1="161.9" y1="141.7" x2="163.5" y2="148.8" stroke-width="3.55"/>
<line x1="163.5" y1="148.8" x2="164.6" y2="159.0" stroke-width="2.60"/>
<line x1="164.6" y1="159.0" x2="165.4" y2="165.3" stroke-width="2.75"/>
<line x1="165.4" y1="165.3" x2="167.0" y2="150.3" stroke-width="2.60"/>
<line x1="167.0" y1="150.3" x2="168.2" y2="133.9" stroke-width="2.60"/>
<line x1="168.2" y1="133.9" x2="169.7" y2="132.3" stroke-width="4.00"/>
<line x1="169.7" y1="132.3" x2="172.1" y2="138.2" stroke-width="4.00"/>
<line x1="172.1" y1="138.2" x2="175.4" y2="143.6" stroke-width="4.00"/>
<line x1="175.4" y1="143.6" x2="179.6" y2="145.7" stroke-width="4.00"/>
<line x1="179.6" y1="145.7" x2="183.4" y2="142.5" stroke-width="4.00"/>
<line x1="183.4" y1="142.5" x2="186.1" y2="144.7" stroke-width="4.00"/>
<line x1="186.1" y1="144.7" x2="188.2" y2="154.3" stroke-width="3.52"/>
<line x1="188.2" y1="154.3" x2="189.8" y2="169.3" stroke-width="2.60"/>
<line x1="189.8" y1="169.3" x2="192.5" y2="172.5" stroke-width="4.00"/>
<line x1="192.5" y1="172.5" x2="195.2" y2="177.9" stroke-width="4.00"/>
<line x1="195.2" y1="177.9" x2="197.3" y2="185.9" stroke-width="3.69"/>
<line x1="197.3" y1="185.9" x2="200.0" y2="180.0" stroke-width="4.00"/>
<line x1="200.0" y1="180.0" x2="202.2" y2="165.0" stroke-width="2.99"/>
<line x1="202.2" y1="165.0" x2="204.3" y2="158.6" stroke-width="3.87"/>
<line x1="204.3" y1="158.6" x2="207.0" y2="160.7" stroke-width="4.00"/>
<line x1="207.0" y1="160.7" x2="209.1" y2="147.9" stroke-width="3.16"/>
<line x1="209.1" y1="147.9" x2="211.3" y2="140.4" stroke-width="3.79"/>
<line x1="211.3" y1="140.4" x2="213.4" y2="144.7" stroke-width="4.00"/>
<line x1="213.4" y1="144.7" x2="215.0" y2="155.4" stroke-width="3.02"/>
<line x1="215.0" y1="155.4" x2="216.6" y2="166.1" stroke-width="3.02"/>
<line x1="216.6" y1="166.1" x2="219.3" y2="170.4" stroke-width="4.00"/>
<line x1="219.3" y1="170.4" x2="222.5" y2="173.6" stroke-width="4.00"/>
<line x1="222.5" y1="173.6" x2="225.7" y2="178.4" stroke-width="4.00"/>
<line x1="225.7" y1="178.4" x2="228.4" y2="171.4" stroke-width="3.98"/>
<line x1="228.4" y1="171.4" x2="230.0" y2="168.9" stroke-width="4.00"/>
<line x1="230.0" y1="168.9" x2="232.1" y2="171.7" stroke-width="4.00"/>
<line x1="232.1" y1="171.7" x2="233.6" y2="178.1" stroke-width="3.59"/>
<line x1="233.6" y1="178.1" x2="234.3" y2="188.9" stroke-width="2.60"/>
<line x1="234.3" y1="188.9" x2="235.7" y2="181.0" stroke-width="3.27"/>
<line x1="235.7" y1="181.0" x2="237.9" y2="176.0" stroke-width="4.00"/>
<line x1="237.9" y1="176.0" x2="240.0" y2="173.9" stroke-width="4.00"/>
<line x1="240.0" y1="173.9" x2="242.9" y2="175.3" stroke-width="4.00"/>
<line x1="242.9" y1="175.3" x2="246.4" y2="178.1" stroke-width="4.00"/>
<line x1="246.4" y1="178.1" x2="249.3" y2="183.9" stroke-width="4.00"/>
<line x1="249.3" y1="183.9" x2="251.4" y2="193.9" stroke-width="3.47"/>
<line x1="251.4" y1="193.9" x2="252.1" y2="201.0" stroke-width="2.60"/>
<line x1="252.1" y1="201.0" x2="253.6" y2="191.0" stroke-width="3.03"/>
<line x1="253.6" y1="191.0" x2="255.0" y2="182.4" stroke-width="3.15"/>
<line x1="255.0" y1="182.4" x2="256.4" y2="189.6" stroke-width="3.38"/>
<line x1="256.4" y1="189.6" x2="257.9" y2="193.9" stroke-width="3.91"/>
<line x1="257.9" y1="193.9" x2="259.3" y2="183.9" stroke-width="2.92"/>
<line x1="259.3" y1="183.9" x2="261.4" y2="181.7" stroke-width="4.00"/>
<line x1="261.4" y1="181.7" x2="262.9" y2="188.1" stroke-width="3.59"/>
</g>
<g fill="none" stroke-linecap="round" stroke="#ff0000">
<line x1="262.9" y1="188.1" x2="263.6" y2="192.4" stroke-width="3.15"/>
<line x1="263.6" y1="192.4" x2="265.0" y2="201.0" stroke-width="3.15"/>
<line x1="265.0" y1="201.0" x2="266.4" y2="203.1" stroke-width="4.00"/>
<line x1="266.4" y1="203.1" x2="268.6" y2="200.3" stroke-width="4.00"/>
<line x1="268.6" y1="200.3" x2="270.0" y2="192.4" stroke-width="3.27"/>
<line x1="270.0" y1="192.4" x2="271.4" y2="182.4" stroke-width="2.92"/>
<line x1="271.4" y1="182.4" x2="272.9" y2="176.0" stroke-width="3.59"/>
<line x1="272.9" y1="176.0" x2="275.0" y2="173.9" stroke-width="4.00"/>
<line x1="275.0" y1="173.9" x2="276.4" y2="166.7" stroke-width="3.38"/>
<line x1="276.4" y1="166.7" x2="277.9" y2="158.1" stroke-width="3.25"/>
<line x1="277.9" y1="158.1" x2="280.0" y2="149.6" stroke-width="3.64"/>
<line x1="280.0" y1="149.6" x2="282.1" y2="148.1" stroke-width="4.00"/>
<line x1="282.1" y1="148.1" x2="284.3" y2="153.1" stroke-width="4.00"/>
<line x1="284.3" y1="153.1" x2="287.1" y2="153.9" stroke-width="4.00"/>
<line x1="287.1" y1="153.9" x2="289.3" y2="155.3" stroke-width="4.00"/>
<line x1="289.3" y1="155.3" x2="291.4" y2="151.7" stroke-width="4.00"/>
<line x1="291.4" y1="151.7" x2="292.9" y2="156.7" stroke-width="3.81"/>
<line x1="292.9" y1="156.7" x2="294.3" y2="171.0" stroke-width="2.60"/>
<line x1="294.3" y1="171.0" x2="295.7" y2="179.6" stroke-width="3.15"/>
<line x1="295.7" y1="179.6" x2="297.1" y2="173.9" stroke-width="3.63"/>
<line x1="297.1" y1="173.9" x2="297.9" y2="166.7" stroke-width="2.60"/>
<line x1="297.9" y1="166.7" x2="299.3" y2="158.1" stroke-width="3.15"/>
<line x1="299.3" y1="158.1" x2="300.7" y2="146.7" stroke-width="2.68"/>
<line x1="300.7" y1="146.7" x2="302.9" y2="141.7" stroke-width="4.00"/>
<line x1="302.9" y1="141.7" x2="304.3" y2="146.7" stroke-width="3.75"/>
<line x1="304.3" y1="146.7" x2="305.7" y2="158.1" stroke-width="2.68"/>
<line x1="305.7" y1="158.1" x2="307.1" y2="167.4" stroke-width="3.03"/>
<line x1="307.1" y1="167.4" x2="308.6" y2="163.9" stroke-width="4.00"/>
<line x1="308.6" y1="163.9" x2="311.4" y2="163.1" stroke-width="4.00"/>
<line x1="311.4" y1="163.1" x2="314.3" y2="163.9" stroke-width="4.00"/>
<line x1="314.3" y1="163.9" x2="316.4" y2="154.6" stroke-width="3.55"/>
<line x1="316.4" y1="154.6" x2="317.9" y2="162.4" stroke-width="3.37"/>
<line x1="317.9" y1="162.4" x2="318.6" y2="173.1" stroke-width="2.60"/>
<line x1="318.6" y1="173.1" x2="320.0" y2="165.3" stroke-width="3.28"/>
<line x1="320.0" y1="165.3" x2="321.4" y2="149.6" stroke-width="2.60"/>
<line x1="321.4" y1="149.6" x2="322.9" y2="141.0" stroke-width="3.25"/>
<line x1="322.9" y1="141.0" x2="325.0" y2="139.6" stroke-width="4.00"/>
<line x1="325.0" y1="139.6" x2="327.9" y2="145.3" stroke-width="4.00"/>
<line x1="327.9" y1="145.3" x2="330.0" y2="139.6" stroke-width="3.95"/>
<line x1="330.0" y1="139.6" x2="332.1" y2="126.7" stroke-width="3.15"/>
<line x1="332.1" y1="126.7" x2="333.6" y2="123.9" stroke-width="4.00"/>
<line x1="333.6" y1="123.9" x2="334.3" y2="124.6" stroke-width="4.00"/>
<line x1="334.3" y1="124.6" x2="336.1" y2="123.6" stroke-width="4.00"/>
<line x1="336.1" y1="123.6" x2="339.3" y2="128.9" stroke-width="4.00"/>
<line x1="339.3" y1="128.9" x2="341.4" y2="136.4" stroke-width="3.75"/>
<line x1="341.4" y1="136.4" x2="344.6" y2="139.7" stroke-width="4.00"/>
<line x1="344.6" y1="139.7" x2="346.8" y2="147.2" stroke-width="3.79"/>
<line x1="346.8" y1="147.2" x2="348.9" y2="157.9" stroke-width="3.39"/>
<line x1="348.9" y1="157.9" x2="350.5" y2="168.6" stroke-width="3.02"/>
<line x1="350.5" y1="168.6" x2="352.7" y2="170.7" stroke-width="4.00"/>
<line x1="352.7" y1="170.7" x2="355.9" y2="164.3" stroke-width="4.00"/>
<line x1="355.9" y1="164.3" x2="359.1" y2="163.2" stroke-width="4.00"/>
<line x1="359.1" y1="163.2" x2="361.8" y2="166.4" stroke-width="4.00"/>
<line x1="361.8" y1="166.4" x2="362.9" y2="175.0" stroke-width="2.76"/>
<line x1="362.9" y1="175.0" x2="363.4" y2="182.5" stroke-width="2.60"/>
<line x1="363.4" y1="182.5" x2="365.0" y2="172.9" stroke-width="3.18"/>
<line x1="365.0" y1="172.9" x2="365.5" y2="162.2" stroke-width="2.60"/>
<line x1="365.5" y1="162.2" x2="366.6" y2="151.4" stroke-width="2.60"/>
<line x1="366.6" y1="151.4" x2="368.2" y2="157.9" stroke-width="3.64"/>
<line x1="368.2" y1="157.9" x2="370.4" y2="162.2" stroke-width="4.00"/>
<line x1="370.4" y1="162.2" x2="373.0" y2="153.6" stroke-width="3.81"/>
<line x1="373.0" y1="153.6" x2="375.2" y2="139.7" stroke-width="3.11"/>
<line x1="375.2" y1="139.7" x2="377.3" y2="137.5" stroke-width="4.00"/>
<line x1="377.3" y1="137.5" x2="379.5" y2="150.4" stroke-width="3.22"/>
<line x1="379.5" y1="150.4" x2="381.1" y2="151.4" stroke-width="4.00"/>
<line x1="381.1" y1="151.4" x2="382.7" y2="138.0" stroke-width="2.63"/>
<line x1="382.7" y1="138.0" x2="384.8" y2="139.7" stroke-width="4.00"/>
<line x1="384.8" y1="139.7" x2="386.4" y2="148.2" stroke-width="3.34"/>
<line x1="386.4" y1="148.2" x2="389.7" y2="153.6" stroke-width="4.00"/>
<line x1="389.7" y1="153.6" x2="391.3" y2="161.1" stroke-width="3.49"/>
<line x1="391.3" y1="161.1" x2="393.4" y2="165.4" stroke-width="4.00"/>
<line x1="393.4" y1="165.4" x2="396.6" y2="158.9" stroke-width="4.00"/>
<line x1="396.6" y1="158.9" x2="398.8" y2="163.2" stroke-width="4.00"/>
<line x1="398.8" y1="163.2" x2="400.4" y2="175.0" stroke-width="2.86"/>
<line x1="400.4" y1="175.0" x2="402.5" y2="178.2" stroke-width="4.00"/>
<line x1="402.5" y1="178.2" x2="405.7" y2="166.4" stroke-width="3.72"/>
<line x1="405.7" y1="166.4" x2="407.8" y2="160.6" stroke-width="3.94"/>
<line x1="407.8" y1="160.6" x2="410.6" y2="157.9" stroke-width="4.00"/>
<line x1="410.6" y1="157.9" x2="413.4" y2="158.8" stroke-width="4.00"/>
<line x1="413.4" y1="158.8" x2="417.1" y2="156.0" stroke-width="4.00"/>
<line x1="417.1" y1="156.0" x2="419.4" y2="160.6" stroke-width="4.00"/>
<line x1="419.4" y1="160.6" x2="420.8" y2="169.0" stroke-width="3.18"/>
<line x1="420.8" y1="169.0" x2="421.7" y2="179.2" stroke-width="2.60"/>
<line x1="421.7" y1="179.2" x2="422.6" y2="183.9" stroke-width="3.36"/>
<line x1="422.6" y1="183.9" x2="424.0" y2="178.3" stroke-width="3.65"/>
<line x1="424.0" y1="178.3" x2="425.9" y2="173.6" stroke-width="4.00"/>
</g>
<g fill="none" stroke-linecap="round" stroke="#8b4513">
<line x1="425.9" y1="173.6" x2="429.1" y2="178.3" stroke-width="4.00"/>
<line x1="429.1" y1="178.3" x2="431.0" y2="179.2" stroke-width="4.00"/>
<line x1="431.0" y1="179.2" x2="432.9" y2="174.6" stroke-width="4.00"/>
<line x1="432.9" y1="174.6" x2="435.6" y2="169.0" stroke-width="4.00"/>
<line x1="435.6" y1="169.0" x2="438.0" y2="166.2" stroke-width="4.00"/>
<line x1="438.0" y1="166.2" x2="440.7" y2="171.8" stroke-width="4.00"/>
<line x1="440.7" y1="171.8" x2="444.0" y2="179.2" stroke-width="4.00"/>
<line x1="444.0" y1="179.2" x2="446.3" y2="176.4" stroke-width="4.00"/>
<line x1="446.3" y1="176.4" x2="448.6" y2="160.6" stroke-width="2.98"/>
<line x1="448.6" y1="160.6" x2="450.5" y2="147.6" stroke-width="2.99"/>
<line x1="450.5" y1="147.6" x2="453.7" y2="138.4" stroke-width="3.91"/>
<line x1="453.7" y1="138.4" x2="456.5" y2="142.1" stroke-width="4.00"/>
<line x1="456.5" y1="142.1" x2="457.4" y2="144.4" stroke-width="3.99"/>
<line x1="457.4" y1="144.4" x2="458.9" y2="152.3" stroke-width="3.35"/>
<line x1="458.9" y1="152.3" x2="462.1" y2="157.0" stroke-width="4.00"/>
<line x1="462.1" y1="157.0" x2="466.8" y2="157.8" stroke-width="4.00"/>
<line x1="466.8" y1="157.8" x2="473.1" y2="156.2" stroke-width="4.00"/>
<line x1="473.1" y1="156.2" x2="475.4" y2="160.1" stroke-width="4.00"/>
<line x1="475.4" y1="160.1" x2="477.8" y2="165.6" stroke-width="4.00"/>
<line x1="477.8" y1="165.6" x2="480.1" y2="162.5" stroke-width="4.00"/>
<line x1="480.1" y1="162.5" x2="481.7" y2="152.3" stroke-width="3.10"/>
<line x1="481.7" y1="152.3" x2="484.9" y2="148.4" stroke-width="4.00"/>
<line x1="484.9" y1="148.4" x2="488.0" y2="151.5" stroke-width="4.00"/>
<line x1="488.0" y1="151.5" x2="491.1" y2="155.4" stroke-width="4.00"/>
<line x1="491.1" y1="155.4" x2="493.5" y2="149.1" stroke-width="3.97"/>
<line x1="493.5" y1="149.1" x2="495.1" y2="147.6" stroke-width="4.00"/>
<line x1="495.1" y1="147.6" x2="497.0" y2="153.0" stroke-width="3.92"/>
<line x1="497.0" y1="153.0" x2="499.0" y2="161.7" stroke-width="3.57"/>
<line x1="499.0" y1="161.7" x2="502.1" y2="166.4" stroke-width="4.00"/>
<line x1="502.1" y1="166.4" x2="503.3" y2="175.8" stroke-width="2.76"/>
<line x1="503.3" y1="175.8" x2="504.5" y2="182.1" stroke-width="3.36"/>
<line x1="504.5" y1="182.1" x2="507.1" y2="185.3" stroke-width="4.00"/>
<line x1="507.1" y1="185.3" x2="510.0" y2="176.7" stroke-width="3.89"/>
<line x1="510.0" y1="176.7" x2="512.1" y2="161.0" stroke-width="2.84"/>
<line x1="512.1" y1="161.0" x2="513.6" y2="146.7" stroke-width="2.60"/>
<line x1="513.6" y1="146.7" x2="515.0" y2="132.4" stroke-width="2.60"/>
<line x1="515.0" y1="132.4" x2="516.4" y2="126.0" stroke-width="3.52"/>
<line x1="516.4" y1="126.0" x2="517.9" y2="133.9" stroke-width="3.35"/>
<line x1="517.9" y1="133.9" x2="520.7" y2="136.7" stroke-width="4.00"/>
<line x1="520.7" y1="136.7" x2="522.9" y2="141.0" stroke-width="4.00"/>
<line x1="522.9" y1="141.0" x2="525.0" y2="150.3" stroke-width="3.55"/>
<line x1="525.0" y1="150.3" x2="527.9" y2="150.3" stroke-width="4.00"/>
<line x1="527.9" y1="150.3" x2="529.3" y2="139.6" stroke-width="2.80"/>
<line x1="529.3" y1="139.6" x2="531.4" y2="126.0" stroke-width="3.07"/>
<line x1="531.4" y1="126.0" x2="534.3" y2="121.0" stroke-width="4.00"/>
<line x1="534.3" y1="121.0" x2="537.1" y2="125.3" stroke-width="4.00"/>
<line x1="537.1" y1="125.3" x2="540.0" y2="131.0" stroke-width="4.00"/>
<line x1="540.0" y1="131.0" x2="543.6" y2="133.1" stroke-width="4.00"/>
<line x1="543.6" y1="133.1" x2="546.0" y2="134.0" stroke-width="4.00"/>
<line x1="546.0" y1="134.0" x2="547.5" y2="142.0" stroke-width="3.34"/>
<line x1="547.5" y1="142.0" x2="548.5" y2="153.0" stroke-width="2.60"/>
<line x1="548.5" y1="153.0" x2="550.0" y2="161.0" stroke-width="3.34"/>
<line x1="550.0" y1="161.0" x2="554.0" y2="158.0" stroke-width="4.00"/>
<line x1="554.0" y1="158.0" x2="557.0" y2="162.0" stroke-width="4.00"/>
<line x1="557.0" y1="162.0" x2="561.0" y2="167.0" stroke-width="4.00"/>
<line x1="561.0" y1="167.0" x2="565.0" y2="160.0" stroke-width="4.00"/>
<line x1="565.0" y1="160.0" x2="570.5" y2="155.0" stroke-width="4.00"/>
<line x1="570.5" y1="155.0" x2="575.0" y2="160.0" stroke-width="4.00"/>
<line x1="575.0" y1="160.0" x2="578.0" y2="168.0" stroke-width="3.96"/>
<line x1="578.0" y1="168.0" x2="582.0" y2="169.0" stroke-width="4.00"/>
<line x1="582.0" y1="169.0" x2="586.0" y2="177.0" stroke-width="4.00"/>
<line x1="586.0" y1="177.0" x2="590.0" y2="186.0" stroke-width="4.00"/>
<line x1="590.0" y1="186.0" x2="593.0" y2="180.0" stroke-width="4.00"/>
<line x1="593.0" y1="180.0" x2="596.0" y2="160.0" stroke-width="3.03"/>
<line x1="596.0" y1="160.0" x2="598.5" y2="147.0" stroke-width="3.37"/>
</g>
<g fill="none" stroke-linecap="round" stroke="#000000">
<line x1="598.5" y1="147.0" x2="599.4" y2="139.5" stroke-width="2.64"/>
<line x1="599.4" y1="139.5" x2="600.5" y2="137.0" stroke-width="4.00"/>
<line x1="600.5" y1="137.0" x2="602.0" y2="141.0" stroke-width="3.96"/>
<line x1="602.0" y1="141.0" x2="603.0" y2="160.0" stroke-width="2.60"/>
<line x1="603.0" y1="160.0" x2="604.0" y2="182.0" stroke-width="2.60"/>
<line x1="604.0" y1="182.0" x2="606.0" y2="190.0" stroke-width="3.65"/>
<line x1="606.0" y1="190.0" x2="609.0" y2="202.0" stroke-width="3.65"/>
<line x1="609.0" y1="202.0" x2="611.0" y2="194.0" stroke-width="3.65"/>
<line x1="611.0" y1="194.0" x2="614.0" y2="196.0" stroke-width="4.00"/>
<line x1="614.0" y1="196.0" x2="619.0" y2="192.0" stroke-width="4.00"/>
<line x1="619.0" y1="192.0" x2="622.0" y2="182.0" stroke-width="3.81"/>
<line x1="622.0" y1="182.0" x2="624.0" y2="165.0" stroke-width="2.60"/>
<line x1="624.0" y1="165.0" x2="627.0" y2="157.0" stroke-width="3.96"/>
<line x1="627.0" y1="157.0" x2="631.0" y2="154.0" stroke-width="4.00"/>
<line x1="631.0" y1="154.0" x2="636.0" y2="157.0" stroke-width="4.00"/>
<line x1="636.0" y1="157.0" x2="641.0" y2="164.0" stroke-width="4.00"/>
<line x1="641.0" y1="164.0" x2="644.0" y2="157.0" stroke-width="4.00"/>
<line x1="644.0" y1="157.0" x2="647.0" y2="144.0" stroke-width="3.57"/>
<line x1="647.0" y1="144.0" x2="649.6" y2="136.6" stroke-width="3.92"/>
<line x1="649.6" y1="136.6" x2="652.9" y2="150.7" stroke-width="3.59"/>
<line x1="652.9" y1="150.7" x2="654.1" y2="159.1" stroke-width="2.95"/>
<line x1="654.1" y1="159.1" x2="657.4" y2="161.0" stroke-width="4.00"/>
<line x1="657.4" y1="161.0" x2="658.6" y2="173.8" stroke-width="2.60"/>
<line x1="658.6" y1="173.8" x2="659.9" y2="184.1" stroke-width="2.73"/>
<line x1="659.9" y1="184.1" x2="660.6" y2="193.8" stroke-width="2.60"/>
<line x1="660.6" y1="193.8" x2="663.8" y2="190.6" stroke-width="4.00"/>
<line x1="663.8" y1="190.6" x2="666.3" y2="186.7" stroke-width="4.00"/>
<line x1="666.3" y1="186.7" x2="668.9" y2="195.7" stroke-width="3.78"/>
<line x1="668.9" y1="195.7" x2="671.5" y2="176.4" stroke-width="2.85"/>
<line x1="671.5" y1="176.4" x2="674.1" y2="146.9" stroke-width="2.60"/>
<line x1="674.1" y1="146.9" x2="676.0" y2="144.3" stroke-width="4.00"/>
<line x1="676.0" y1="144.3" x2="678.6" y2="158.4" stroke-width="3.32"/>
<line x1="678.6" y1="158.4" x2="681.1" y2="186.7" stroke-width="2.60"/>
<line x1="681.1" y1="186.7" x2="683.7" y2="207.3" stroke-width="2.73"/>
<line x1="683.7" y1="207.3" x2="686.3" y2="202.1" stroke-width="4.00"/>
<line x1="686.3" y1="202.1" x2="688.2" y2="163.6" stroke-width="2.60"/>
<line x1="688.2" y1="163.6" x2="690.8" y2="146.2" stroke-width="3.02"/>
<line x1="690.8" y1="146.2" x2="692.7" y2="154.6" stroke-width="3.55"/>
<line x1="692.7" y1="154.6" x2="696.6" y2="176.4" stroke-width="3.28"/>
<line x1="696.6" y1="176.4" x2="698.5" y2="194.4" stroke-width="2.60"/>
<line x1="698.5" y1="194.4" x2="702.4" y2="183.3" stroke-width="3.92"/>
<line x1="702.4" y1="183.3" x2="704.7" y2="158.1" stroke-width="2.60"/>
<line x1="704.7" y1="158.1" x2="707.9" y2="144.0" stroke-width="3.56"/>
<line x1="707.9" y1="144.0" x2="711.0" y2="140.1" stroke-width="4.00"/>
<line x1="711.0" y1="140.1" x2="713.4" y2="145.6" stroke-width="4.00"/>
<line x1="713.4" y1="145.6" x2="714.9" y2="158.1" stroke-width="2.64"/>
<line x1="714.9" y1="158.1" x2="717.3" y2="164.4" stroke-width="3.97"/>
<line x1="717.3" y1="164.4" x2="718.1" y2="177.0" stroke-width="2.60"/>
<line x1="718.1" y1="177.0" x2="719.6" y2="169.1" stroke-width="3.35"/>
<line x1="719.6" y1="169.1" x2="722.0" y2="172.3" stroke-width="4.00"/>
<line x1="722.0" y1="172.3" x2="724.4" y2="189.6" stroke-width="2.90"/>
<line x1="724.4" y1="189.6" x2="726.7" y2="173.9" stroke-width="2.99"/>
<line x1="726.7" y1="173.9" x2="729.1" y2="158.1" stroke-width="3.05"/>
<line x1="729.1" y1="158.1" x2="731.4" y2="150.3" stroke-width="3.79"/>
<line x1="731.4" y1="150.3" x2="733.8" y2="151.1" stroke-width="4.00"/>
<line x1="733.8" y1="151.1" x2="736.1" y2="162.9" stroke-width="3.39"/>
<line x1="736.1" y1="162.9" x2="738.5" y2="173.9" stroke-width="3.51"/>
<line x1="738.5" y1="173.9" x2="741.6" y2="183.3" stroke-width="3.88"/>
<line x1="741.6" y1="183.3" x2="744.8" y2="181.7" stroke-width="4.00"/>
<line x1="744.8" y1="181.7" x2="747.1" y2="164.4" stroke-width="2.83"/>
<line x1="747.1" y1="164.4" x2="748.7" y2="158.9" stroke-width="3.78"/>
<line x1="748.7" y1="158.9" x2="751.1" y2="164.4" stroke-width="4.00"/>
<line x1="751.1" y1="164.4" x2="752.6" y2="181.7" stroke-width="2.60"/>
<line x1="752.6" y1="181.7" x2="754.2" y2="199.0" stroke-width="2.60"/>
<line x1="754.2" y1="199.0" x2="755.8" y2="203.7" stroke-width="3.90"/>
<line x1="755.8" y1="203.7" x2="758.1" y2="183.3" stroke-width="2.60"/>
<line x1="758.1" y1="183.3" x2="760.5" y2="162.9" stroke-width="2.60"/>
<line x1="760.5" y1="162.9" x2="762.9" y2="158.1" stroke-width="4.00"/>
<line x1="762.9" y1="158.1" x2="766.8" y2="161.3" stroke-width="4.00"/>
<line x1="766.8" y1="161.3" x2="768.4" y2="164.4" stroke-width="4.00"/>
</g>
<g fill="none" stroke-linecap="round" stroke="#483d8b">
<line x1="768.4" y1="164.4" x2="771.0" y2="171.9" stroke-width="3.91"/>
<line x1="771.0" y1="171.9" x2="773.4" y2="167.9" stroke-width="4.00"/>
<line x1="773.4" y1="167.9" x2="775.7" y2="158.5" stroke-width="3.63"/>
<line x1="775.7" y1="158.5" x2="778.9" y2="153.8" stroke-width="4.00"/>
<line x1="778.9" y1="153.8" x2="782.0" y2="154.6" stroke-width="4.00"/>
<line x1="782.0" y1="154.6" x2="784.4" y2="162.4" stroke-width="3.82"/>
<line x1="784.4" y1="162.4" x2="785.1" y2="173.4" stroke-width="2.60"/>
<line x1="785.1" y1="173.4" x2="785.9" y2="184.4" stroke-width="2.60"/>
<line x1="785.9" y1="184.4" x2="787.5" y2="193.9" stroke-width="3.20"/>
<line x1="787.5" y1="193.9" x2="790.6" y2="206.4" stroke-width="3.64"/>
<line x1="790.6" y1="206.4" x2="793.0" y2="217.4" stroke-width="3.51"/>
<line x1="793.0" y1="217.4" x2="795.4" y2="227.6" stroke-width="3.59"/>
<line x1="795.4" y1="227.6" x2="797.7" y2="219.0" stroke-width="3.71"/>
<line x1="797.7" y1="219.0" x2="800.9" y2="204.9" stroke-width="3.56"/>
<line x1="800.9" y1="204.9" x2="803.2" y2="189.1" stroke-width="2.98"/>
<line x1="803.2" y1="189.1" x2="805.6" y2="176.6" stroke-width="3.37"/>
<line x1="805.6" y1="176.6" x2="807.1" y2="180.5" stroke-width="3.98"/>
<line x1="807.1" y1="180.5" x2="808.7" y2="197.0" stroke-width="2.60"/>
<line x1="808.7" y1="197.0" x2="811.9" y2="198.6" stroke-width="4.00"/>
<line x1="811.9" y1="198.6" x2="815.0" y2="204.9" stroke-width="4.00"/>
<line x1="815.0" y1="204.9" x2="818.9" y2="215.1" stroke-width="3.97"/>
<line x1="818.9" y1="215.1" x2="820.5" y2="204.9" stroke-width="3.10"/>
<line x1="820.5" y1="204.9" x2="822.1" y2="189.1" stroke-width="2.60"/>
<line x1="822.1" y1="189.1" x2="823.6" y2="184.4" stroke-width="3.85"/>
</g>
<g fill="none" stroke-linecap="round" stroke="#ff4500">
<line x1="117.4" y1="416.3" x2="121.8" y2="417.3" stroke-width="3.20"/>
<line x1="121.8" y1="417.3" x2="126.7" y2="416.6" stroke-width="3.20"/>
<line x1="126.7" y1="416.6" x2="133.5" y2="416.3" stroke-width="3.20"/>
<line x1="133.5" y1="416.3" x2="139.4" y2="416.0" stroke-width="3.20"/>
<line x1="139.4" y1="416.0" x2="143.3" y2="417.3" stroke-width="3.20"/>
<line x1="143.3" y1="417.3" x2="147.3" y2="418.2" stroke-width="3.20"/>
<line x1="147.3" y1="418.2" x2="162.9" y2="418.2" stroke-width="3.20"/>
<line x1="162.9" y1="418.2" x2="167.8" y2="421.2" stroke-width="3.20"/>
<line x1="167.8" y1="421.2" x2="178.6" y2="420.7" stroke-width="3.20"/>
<line x1="178.6" y1="420.7" x2="195.0" y2="420.9" stroke-width="3.20"/>
<line x1="195.0" y1="420.9" x2="198.9" y2="421.8" stroke-width="3.20"/>
<line x1="198.9" y1="421.8" x2="208.7" y2="421.6" stroke-width="3.20"/>
<line x1="208.7" y1="421.6" x2="211.7" y2="420.6" stroke-width="3.20"/>
<line x1="211.7" y1="420.6" x2="214.6" y2="422.3" stroke-width="3.20"/>
<line x1="214.6" y1="422.3" x2="217.5" y2="424.2" stroke-width="3.20"/>
<line x1="217.5" y1="424.2" x2="237.2" y2="424.2" stroke-width="3.20"/>
<line x1="237.2" y1="424.2" x2="242.1" y2="424.7" stroke-width="3.20"/>
<line x1="242.1" y1="424.7" x2="246.0" y2="423.7" stroke-width="3.20"/>
<line x1="246.0" y1="423.7" x2="261.9" y2="423.7" stroke-width="3.20"/>
</g>
<g fill="none" stroke-linecap="round" stroke="#ff0000">
<line x1="261.9" y1="423.7" x2="271.5" y2="423.7" stroke-width="3.20"/>
<line x1="271.5" y1="423.7" x2="273.4" y2="424.7" stroke-width="3.20"/>
<line x1="273.4" y1="424.7" x2="280.0" y2="424.5" stroke-width="3.20"/>
<line x1="280.0" y1="424.5" x2="298.6" y2="424.5" stroke-width="3.20"/>
<line x1="298.6" y1="424.5" x2="300.6" y2="423.5" stroke-width="3.20"/>
<line x1="300.6" y1="423.5" x2="307.5" y2="423.7" stroke-width="3.20"/>
<line x1="307.5" y1="423.7" x2="314.3" y2="424.7" stroke-width="3.20"/>
<line x1="314.3" y1="424.7" x2="333.9" y2="423.7" stroke-width="3.20"/>
<line x1="333.9" y1="423.7" x2="357.5" y2="424.2" stroke-width="3.20"/>
<line x1="357.5" y1="424.2" x2="359.4" y2="425.2" stroke-width="3.20"/>
<line x1="359.4" y1="425.2" x2="360.0" y2="425.2" stroke-width="3.20"/>
<line x1="360.0" y1="425.2" x2="367.8" y2="425.2" stroke-width="3.20"/>
<line x1="367.8" y1="425.2" x2="373.2" y2="421.3" stroke-width="3.20"/>
<line x1="373.2" y1="421.3" x2="380.6" y2="423.7" stroke-width="3.20"/>
<line x1="380.6" y1="423.7" x2="385.5" y2="421.3" stroke-width="3.20"/>
<line x1="385.5" y1="421.3" x2="390.4" y2="421.8" stroke-width="3.20"/>
<line x1="390.4" y1="421.8" x2="399.2" y2="424.7" stroke-width="3.20"/>
<line x1="399.2" y1="424.7" x2="405.1" y2="423.2" stroke-width="3.20"/>
<line x1="405.1" y1="423.2" x2="412.9" y2="424.2" stroke-width="3.20"/>
<line x1="412.9" y1="424.2" x2="420.8" y2="425.7" stroke-width="3.20"/>
<line x1="420.8" y1="425.7" x2="424.7" y2="427.2" stroke-width="3.20"/>
<line x1="424.7" y1="427.2" x2="427.6" y2="427.6" stroke-width="3.20"/>
</g>
<g fill="none" stroke-linecap="round" stroke="#8b4513">
<line x1="427.6" y1="427.6" x2="430.6" y2="429.1" stroke-width="3.20"/>
<line x1="430.6" y1="429.1" x2="433.5" y2="426.7" stroke-width="3.20"/>
<line x1="433.5" y1="426.7" x2="437.5" y2="428.6" stroke-width="3.20"/>
<line x1="437.5" y1="428.6" x2="440.0" y2="428.8" stroke-width="3.20"/>
<line x1="440.0" y1="428.8" x2="443.9" y2="431.2" stroke-width="3.20"/>
<line x1="443.9" y1="431.2" x2="451.8" y2="430.7" stroke-width="3.20"/>
<line x1="451.8" y1="430.7" x2="459.6" y2="430.3" stroke-width="3.20"/>
<line x1="459.6" y1="430.3" x2="469.4" y2="428.6" stroke-width="3.20"/>
<line x1="469.4" y1="428.6" x2="479.2" y2="431.7" stroke-width="3.20"/>
<line x1="479.2" y1="431.7" x2="486.1" y2="433.2" stroke-width="3.20"/>
<line x1="486.1" y1="433.2" x2="498.8" y2="432.7" stroke-width="3.20"/>
<line x1="498.8" y1="432.7" x2="501.8" y2="427.8" stroke-width="3.20"/>
<line x1="501.8" y1="427.8" x2="508.6" y2="427.8" stroke-width="3.20"/>
<line x1="508.6" y1="427.8" x2="516.5" y2="431.2" stroke-width="3.20"/>
<line x1="516.5" y1="431.2" x2="520.0" y2="431.8" stroke-width="3.20"/>
<line x1="520.0" y1="431.8" x2="535.7" y2="432.7" stroke-width="3.20"/>
<line x1="535.7" y1="432.7" x2="551.4" y2="432.7" stroke-width="3.20"/>
<line x1="551.4" y1="432.7" x2="562.2" y2="434.2" stroke-width="3.20"/>
<line x1="562.2" y1="434.2" x2="578.8" y2="434.2" stroke-width="3.20"/>
<line x1="578.8" y1="434.2" x2="590.6" y2="434.5" stroke-width="3.20"/>
<line x1="590.6" y1="434.5" x2="598.4" y2="435.7" stroke-width="3.20"/>
</g>
<g fill="none" stroke-linecap="round" stroke="#000000">
<line x1="598.4" y1="435.7" x2="601.4" y2="436.7" stroke-width="3.20"/>
<line x1="601.4" y1="436.7" x2="606.6" y2="435.4" stroke-width="3.20"/>
<line x1="606.6" y1="435.4" x2="621.9" y2="434.9" stroke-width="3.20"/>
<line x1="621.9" y1="434.9" x2="626.3" y2="433.2" stroke-width="3.20"/>
<line x1="626.3" y1="433.2" x2="635.1" y2="434.0" stroke-width="3.20"/>
<line x1="635.1" y1="434.0" x2="643.8" y2="437.1" stroke-width="3.20"/>
<line x1="643.8" y1="437.1" x2="651.5" y2="437.9" stroke-width="3.20"/>
<line x1="651.5" y1="437.9" x2="657.0" y2="436.0" stroke-width="3.20"/>
<line x1="657.0" y1="436.0" x2="670.1" y2="436.0" stroke-width="3.20"/>
<line x1="670.1" y1="436.0" x2="673.4" y2="437.3" stroke-width="3.20"/>
<line x1="673.4" y1="437.3" x2="695.0" y2="437.9" stroke-width="3.20"/>
<line x1="695.0" y1="437.9" x2="702.7" y2="438.8" stroke-width="3.20"/>
<line x1="702.7" y1="438.8" x2="705.7" y2="442.7" stroke-width="3.20"/>
<line x1="705.7" y1="442.7" x2="708.6" y2="440.7" stroke-width="3.20"/>
<line x1="708.6" y1="440.7" x2="712.5" y2="438.3" stroke-width="3.20"/>
<line x1="712.5" y1="438.3" x2="719.4" y2="438.8" stroke-width="3.20"/>
<line x1="719.4" y1="438.8" x2="727.3" y2="440.3" stroke-width="3.20"/>
<line x1="727.3" y1="440.3" x2="733.1" y2="440.3" stroke-width="3.20"/>
<line x1="733.1" y1="440.3" x2="737.1" y2="444.7" stroke-width="3.20"/>
<line x1="737.1" y1="444.7" x2="739.0" y2="447.6" stroke-width="3.20"/>
<line x1="739.0" y1="447.6" x2="742.0" y2="444.7" stroke-width="3.20"/>
<line x1="742.0" y1="444.7" x2="745.9" y2="445.6" stroke-width="3.20"/>
<line x1="745.9" y1="445.6" x2="748.8" y2="445.2" stroke-width="3.20"/>
<line x1="748.8" y1="445.2" x2="751.8" y2="451.0" stroke-width="3.20"/>
<line x1="751.8" y1="451.0" x2="753.7" y2="446.1" stroke-width="3.19"/>
<line x1="753.7" y1="446.1" x2="758.6" y2="444.2" stroke-width="3.20"/>
<line x1="758.6" y1="444.2" x2="763.5" y2="444.7" stroke-width="3.20"/>
<line x1="763.5" y1="444.7" x2="767.5" y2="441.2" stroke-width="3.20"/>
<line x1="767.5" y1="441.2" x2="770.4" y2="443.2" stroke-width="3.20"/>
</g>
<g fill="none" stroke-linecap="round" stroke="#483d8b">
<line x1="770.4" y1="443.2" x2="773.0" y2="444.4" stroke-width="3.20"/>
<line x1="773.0" y1="444.4" x2="777.1" y2="444.1" stroke-width="3.20"/>
<line x1="777.1" y1="444.1" x2="785.2" y2="443.9" stroke-width="3.20"/>
<line x1="785.2" y1="443.9" x2="794.9" y2="442.9" stroke-width="3.20"/>
<line x1="794.9" y1="442.9" x2="798.9" y2="444.1" stroke-width="3.20"/>
<line x1="798.9" y1="444.1" x2="805.4" y2="442.9" stroke-width="3.20"/>
<line x1="805.4" y1="442.9" x2="816.7" y2="441.7" stroke-width="3.20"/>
<line x1="816.7" y1="441.7" x2="823.9" y2="442.1" stroke-width="3.20"/>
</g>
<rect x="83.5" y="33.5" width="775.0" height="233.0" fill="none" stroke="#000" stroke-width="1.33"/>
<line x1="77.7" y1="33.50" x2="83.5" y2="33.50" stroke="#000" stroke-width="1.33"/>
<text x="72.8" y="39.40" font-size="15.90" text-anchor="end" textLength="41.89" lengthAdjust="spacingAndGlyphs">1080</text>
<line x1="77.7" y1="66.50" x2="83.5" y2="66.50" stroke="#000" stroke-width="1.33"/>
<text x="72.8" y="72.40" font-size="15.90" text-anchor="end" textLength="41.89" lengthAdjust="spacingAndGlyphs">1060</text>
<line x1="77.7" y1="100.50" x2="83.5" y2="100.50" stroke="#000" stroke-width="1.33"/>
<text x="72.8" y="106.40" font-size="15.90" text-anchor="end" textLength="41.89" lengthAdjust="spacingAndGlyphs">1040</text>
<line x1="77.7" y1="133.50" x2="83.5" y2="133.50" stroke="#000" stroke-width="1.33"/>
<text x="72.8" y="139.40" font-size="15.90" text-anchor="end" textLength="41.89" lengthAdjust="spacingAndGlyphs">1020</text>
<line x1="77.7" y1="166.50" x2="83.5" y2="166.50" stroke="#000" stroke-width="1.33"/>
<text x="72.8" y="172.40" font-size="15.90" text-anchor="end" textLength="41.89" lengthAdjust="spacingAndGlyphs">1000</text>
<line x1="77.7" y1="200.50" x2="83.5" y2="200.50" stroke="#000" stroke-width="1.33"/>
<text x="72.8" y="206.40" font-size="15.90" text-anchor="end" textLength="31.42" lengthAdjust="spacingAndGlyphs">980</text>
<line x1="77.7" y1="233.50" x2="83.5" y2="233.50" stroke="#000" stroke-width="1.33"/>
<text x="72.8" y="239.40" font-size="15.90" text-anchor="end" textLength="31.42" lengthAdjust="spacingAndGlyphs">960</text>
<line x1="77.7" y1="266.50" x2="83.5" y2="266.50" stroke="#000" stroke-width="1.33"/>
<text x="72.8" y="272.40" font-size="15.90" text-anchor="end" textLength="31.42" lengthAdjust="spacingAndGlyphs">940</text>
<line x1="144.5" y1="266.5" x2="144.5" y2="272.3" stroke="#000" stroke-width="1.33"/>
<line x1="314.5" y1="266.5" x2="314.5" y2="272.3" stroke="#000" stroke-width="1.33"/>
<line x1="479.5" y1="266.5" x2="479.5" y2="272.3" stroke="#000" stroke-width="1.33"/>
<line x1="650.5" y1="266.5" x2="650.5" y2="272.3" stroke="#000" stroke-width="1.33"/>
<line x1="820.5" y1="266.5" x2="820.5" y2="272.3" stroke="#000" stroke-width="1.33"/>
<rect x="83.5" y="383.5" width="775.0" height="234.0" fill="none" stroke="#000" stroke-width="1.33"/>
<line x1="77.7" y1="383.50" x2="83.5" y2="383.50" stroke="#000" stroke-width="1.33"/>
<text x="72.8" y="389.40" font-size="15.90" text-anchor="end" textLength="20.94" lengthAdjust="spacingAndGlyphs">20</text>
<line x1="77.7" y1="422.50" x2="83.5" y2="422.50" stroke="#000" stroke-width="1.33"/>
<text x="72.8" y="428.40" font-size="15.90" text-anchor="end" textLength="20.94" lengthAdjust="spacingAndGlyphs">10</text>
<line x1="77.7" y1="461.50" x2="83.5" y2="461.50" stroke="#000" stroke-width="1.33"/>
<text x="72.8" y="467.40" font-size="15.90" text-anchor="end" textLength="10.47" lengthAdjust="spacingAndGlyphs">0</text>
<line x1="77.7" y1="500.50" x2="83.5" y2="500.50" stroke="#000" stroke-width="1.33"/>
<text x="72.8" y="506.40" font-size="15.90" text-anchor="end" textLength="20.94" lengthAdjust="spacingAndGlyphs">10</text>
<text x="51.86" y="506.40" font-size="15.90" text-anchor="end" textLength="13.79" lengthAdjust="spacingAndGlyphs">−</text>
<line x1="77.7" y1="539.50" x2="83.5" y2="539.50" stroke="#000" stroke-width="1.33"/>
<text x="72.8" y="545.40" font-size="15.90" text-anchor="end" textLength="20.94" lengthAdjust="spacingAndGlyphs">20</text>
<text x="51.86" y="545.40" font-size="15.90" text-anchor="end" textLength="13.79" lengthAdjust="spacingAndGlyphs">−</text>
<line x1="77.7" y1="578.50" x2="83.5" y2="578.50" stroke="#000" stroke-width="1.33"/>
<text x="72.8" y="584.40" font-size="15.90" text-anchor="end" textLength="20.94" lengthAdjust="spacingAndGlyphs">30</text>
<text x="51.86" y="584.40" font-size="15.90" text-anchor="end" textLength="13.79" lengthAdjust="spacingAndGlyphs">−</text>
<line x1="77.7" y1="617.50" x2="83.5" y2="617.50" stroke="#000" stroke-width="1.33"/>
<text x="72.8" y="623.40" font-size="15.90" text-anchor="end" textLength="20.94" lengthAdjust="spacingAndGlyphs">40</text>
<text x="51.86" y="623.40" font-size="15.90" text-anchor="end" textLength="13.79" lengthAdjust="spacingAndGlyphs">−</text>
<line x1="144.5" y1="617.5" x2="144.5" y2="623.3" stroke="#000" stroke-width="1.33"/>
<line x1="314.5" y1="617.5" x2="314.5" y2="623.3" stroke="#000" stroke-width="1.33"/>
<line x1="479.5" y1="617.5" x2="479.5" y2="623.3" stroke="#000" stroke-width="1.33"/>
<line x1="650.5" y1="617.5" x2="650.5" y2="623.3" stroke="#000" stroke-width="1.33"/>
<line x1="820.5" y1="617.5" x2="820.5" y2="623.3" stroke="#000" stroke-width="1.33"/>
<text transform="translate(151.10,280.65) rotate(-85)" font-size="14.46" text-anchor="end" textLength="61.08" lengthAdjust="spacingAndGlyphs">10/10/21</text>
<text transform="translate(321.10,280.65) rotate(-85)" font-size="14.46" text-anchor="end" textLength="61.08" lengthAdjust="spacingAndGlyphs">11/10/21</text>
<text transform="translate(486.10,280.65) rotate(-85)" font-size="14.46" text-anchor="end" textLength="61.08" lengthAdjust="spacingAndGlyphs">12/10/21</text>
<text transform="translate(657.10,280.65) rotate(-85)" font-size="14.46" text-anchor="end" textLength="61.08" lengthAdjust="spacingAndGlyphs">01/10/22</text>
<text transform="translate(827.10,280.65) rotate(-85)" font-size="14.46" text-anchor="end" textLength="61.08" lengthAdjust="spacingAndGlyphs">02/10/22</text>
<text transform="translate(151.10,630.35) rotate(-85)" font-size="14.46" text-anchor="end" textLength="61.08" lengthAdjust="spacingAndGlyphs">10/10/21</text>
<text transform="translate(321.10,630.35) rotate(-85)" font-size="14.46" text-anchor="end" textLength="61.08" lengthAdjust="spacingAndGlyphs">11/10/21</text>
<text transform="translate(486.10,630.35) rotate(-85)" font-size="14.46" text-anchor="end" textLength="61.08" lengthAdjust="spacingAndGlyphs">12/10/21</text>
<text transform="translate(657.10,630.35) rotate(-85)" font-size="14.46" text-anchor="end" textLength="61.08" lengthAdjust="spacingAndGlyphs">01/10/22</text>
<text transform="translate(827.10,630.35) rotate(-85)" font-size="14.46" text-anchor="end" textLength="61.08" lengthAdjust="spacingAndGlyphs">02/10/22</text>
<text x="139.49" y="24.50" font-size="21.00" textLength="37.26" lengthAdjust="spacingAndGlyphs">Sea</text>
<text x="183.10" y="24.50" font-size="21.00" textLength="53.14" lengthAdjust="spacingAndGlyphs">Level</text>
<text x="242.60" y="24.50" font-size="21.00" textLength="86.63" lengthAdjust="spacingAndGlyphs">Pressure</text>
<text x="335.59" y="24.50" font-size="21.00" textLength="190.87" lengthAdjust="spacingAndGlyphs">300234067975310</text>
<text x="539.17" y="24.50" font-size="21.00" textLength="115.27" lengthAdjust="spacingAndGlyphs">10/05/2021</text>
<text x="660.80" y="24.50" font-size="21.00" textLength="20.08" lengthAdjust="spacingAndGlyphs">to</text>
<text x="687.24" y="24.50" font-size="21.00" textLength="115.27" lengthAdjust="spacingAndGlyphs">02/10/2022</text>
<text x="127.82" y="374.50" font-size="21.00" textLength="76.19" lengthAdjust="spacingAndGlyphs">Surface</text>
<text x="210.37" y="374.50" font-size="21.00" textLength="130.53" lengthAdjust="spacingAndGlyphs">Temperature</text>
<text x="347.25" y="374.50" font-size="21.00" textLength="190.87" lengthAdjust="spacingAndGlyphs">300234067975310</text>
<text x="550.84" y="374.50" font-size="21.00" textLength="115.27" lengthAdjust="spacingAndGlyphs">10/05/2021</text>
<text x="672.47" y="374.50" font-size="21.00" textLength="20.08" lengthAdjust="spacingAndGlyphs">to</text>
<text x="698.90" y="374.50" font-size="21.00" textLength="115.27" lengthAdjust="spacingAndGlyphs">02/10/2022</text>
<text transform="translate(20.80,229.90) rotate(-90)" x="0.00" y="0" font-size="15.40" textLength="31.05" lengthAdjust="spacingAndGlyphs">Sea</text>
<text transform="translate(20.80,229.90) rotate(-90)" x="36.35" y="0" font-size="15.40" textLength="44.30" lengthAdjust="spacingAndGlyphs">Level</text>
<text transform="translate(20.80,229.90) rotate(-90)" x="85.95" y="0" font-size="15.40" textLength="72.21" lengthAdjust="spacingAndGlyphs">Pressure</text>
<text transform="translate(28.00,589.08) rotate(-90)" x="0.00" y="0" font-size="15.40" textLength="62.55" lengthAdjust="spacingAndGlyphs">Surface</text>
<text transform="translate(28.00,589.08) rotate(-90)" x="67.77" y="0" font-size="15.40" textLength="107.16" lengthAdjust="spacingAndGlyphs">Temperature</text>
</svg>
</body></html>
